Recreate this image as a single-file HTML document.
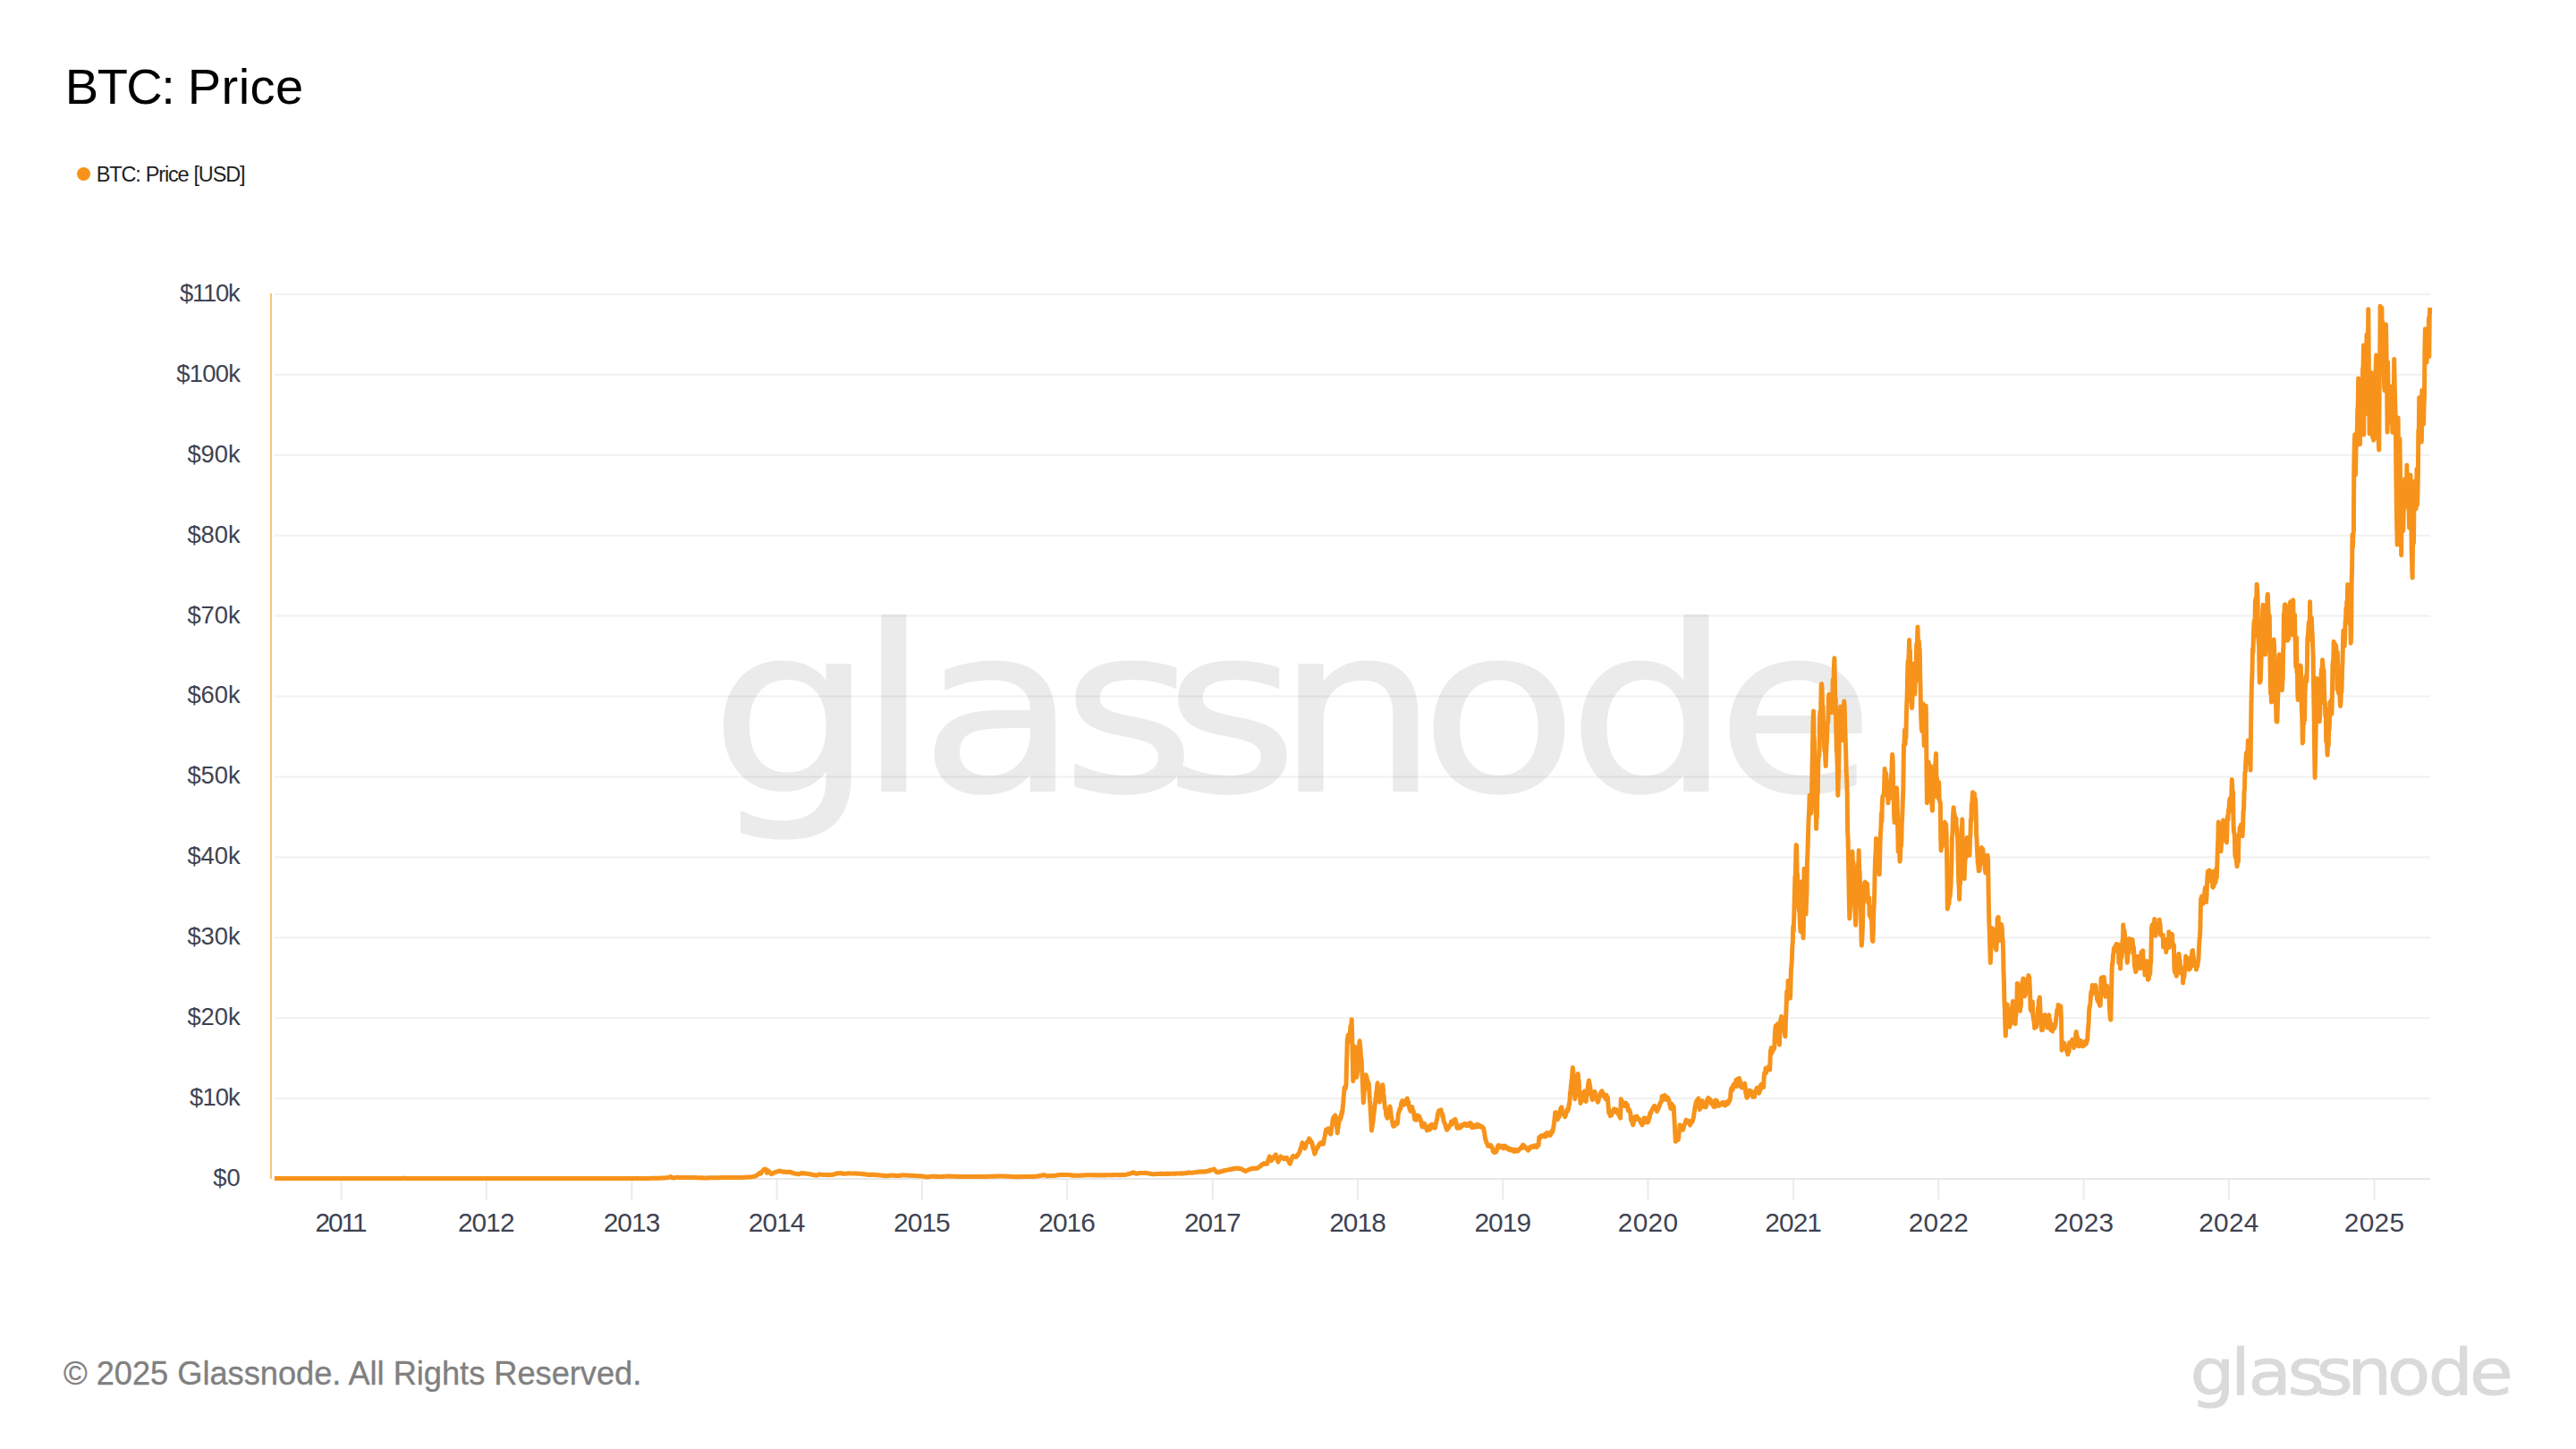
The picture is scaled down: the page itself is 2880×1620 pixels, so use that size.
<!DOCTYPE html>
<html lang="en"><head><meta charset="utf-8"><title>BTC: Price</title>
<style>
html,body{margin:0;padding:0;background:#fff}
body{width:2880px;height:1620px;position:relative;overflow:hidden;font-family:"Liberation Sans",sans-serif}
.title{position:absolute;left:72.8px;top:65.4px;font-size:56px;line-height:64px;color:#000;white-space:nowrap;word-spacing:-0.3px}
.title .a{letter-spacing:-1.5px}
.title .b{letter-spacing:0.5px}
.legend{position:absolute;left:86px;top:180px;height:28px;display:flex;align-items:center;white-space:nowrap}
.dot{width:15px;height:15px;border-radius:50%;background:#f7931a;display:inline-block;margin-right:8px}
.legend span.t{font-size:23.5px;color:#1f1f1f;line-height:28px;letter-spacing:-1.15px;word-spacing:0.6px;position:relative;top:0.7px;left:-1.2px}
.footer{position:absolute;left:71px;top:1515px;-webkit-text-stroke:0.35px #808080;font-size:36.2px;line-height:42px;color:#808080;white-space:nowrap}
.yl{font-family:"Liberation Sans",sans-serif;font-size:27.4px;fill:#3e4351}
.xl{font-family:"Liberation Sans",sans-serif;font-size:29.8px;fill:#3e4351}
</style></head><body>
<svg width="2880" height="1620" viewBox="0 0 2880 1620" style="position:absolute;left:0;top:0">
<rect x="307" y="328.0" width="2410" height="2" fill="#f1f1f2"/>
<rect x="307" y="417.9" width="2410" height="2" fill="#f1f1f2"/>
<rect x="307" y="507.8" width="2410" height="2" fill="#f1f1f2"/>
<rect x="307" y="597.7" width="2410" height="2" fill="#f1f1f2"/>
<rect x="307" y="687.6" width="2410" height="2" fill="#f1f1f2"/>
<rect x="307" y="777.5" width="2410" height="2" fill="#f1f1f2"/>
<rect x="307" y="867.5" width="2410" height="2" fill="#f1f1f2"/>
<rect x="307" y="957.4" width="2410" height="2" fill="#f1f1f2"/>
<rect x="307" y="1047.3" width="2410" height="2" fill="#f1f1f2"/>
<rect x="307" y="1137.2" width="2410" height="2" fill="#f1f1f2"/>
<rect x="307" y="1227.1" width="2410" height="2" fill="#f1f1f2"/>
<rect x="307" y="1317.0" width="2410" height="2" fill="#e7e7e8"/>
<rect x="380.5" y="1319.0" width="2" height="22.5" fill="#ebebec"/>
<rect x="542.7" y="1319.0" width="2" height="22.5" fill="#ebebec"/>
<rect x="705.4" y="1319.0" width="2" height="22.5" fill="#ebebec"/>
<rect x="867.6" y="1319.0" width="2" height="22.5" fill="#ebebec"/>
<rect x="1029.9" y="1319.0" width="2" height="22.5" fill="#ebebec"/>
<rect x="1192.1" y="1319.0" width="2" height="22.5" fill="#ebebec"/>
<rect x="1354.8" y="1319.0" width="2" height="22.5" fill="#ebebec"/>
<rect x="1517.0" y="1319.0" width="2" height="22.5" fill="#ebebec"/>
<rect x="1679.2" y="1319.0" width="2" height="22.5" fill="#ebebec"/>
<rect x="1841.4" y="1319.0" width="2" height="22.5" fill="#ebebec"/>
<rect x="2004.1" y="1319.0" width="2" height="22.5" fill="#ebebec"/>
<rect x="2166.3" y="1319.0" width="2" height="22.5" fill="#ebebec"/>
<rect x="2328.6" y="1319.0" width="2" height="22.5" fill="#ebebec"/>
<rect x="2490.8" y="1319.0" width="2" height="22.5" fill="#ebebec"/>
<rect x="2653.5" y="1319.0" width="2" height="22.5" fill="#ebebec"/>
<text transform="scale(1.115,1)" x="712.2 860.2 922.5 1064.4 1167.4 1279.3 1424.1 1572.0 1720.9" y="884" font-family="'DejaVu Sans','Liberation Sans',sans-serif" font-size="258" fill="#000" stroke="#000" stroke-width="2" stroke-linejoin="round" opacity="0.075" >glassnode</text>
<rect x="302" y="328" width="2" height="990" fill="#fbc27a"/>
<path d="M306.8,1317.6 L307.3,1317.6 L307.7,1317.6 L308.2,1317.6 L308.6,1317.6 L309.1,1317.6 L309.5,1317.6 L309.9,1317.6 L310.4,1317.6 L310.8,1317.6 L311.3,1317.6 L311.7,1317.6 L312.2,1317.6 L312.6,1317.6 L313.1,1317.6 L313.5,1317.6 L313.9,1317.6 L314.4,1317.6 L314.8,1317.6 L315.3,1317.6 L315.7,1317.6 L316.2,1317.6 L316.6,1317.6 L317.1,1317.6 L317.5,1317.6 L317.9,1317.6 L318.4,1317.6 L318.8,1317.6 L319.3,1317.6 L319.7,1317.6 L320.2,1317.6 L320.6,1317.6 L321.1,1317.6 L321.5,1317.6 L321.9,1317.6 L322.4,1317.6 L322.8,1317.6 L323.3,1317.6 L323.7,1317.6 L324.2,1317.6 L324.6,1317.6 L325.1,1317.6 L325.5,1317.6 L325.9,1317.6 L326.4,1317.6 L326.8,1317.6 L327.3,1317.6 L327.7,1317.6 L328.2,1317.6 L328.6,1317.6 L329.1,1317.6 L329.5,1317.6 L329.9,1317.6 L330.4,1317.6 L330.8,1317.6 L331.3,1317.6 L331.7,1317.6 L332.2,1317.6 L332.6,1317.6 L333.1,1317.6 L333.5,1317.6 L333.9,1317.6 L334.4,1317.6 L334.8,1317.6 L335.3,1317.6 L335.7,1317.6 L336.2,1317.6 L336.6,1317.6 L337.1,1317.6 L337.5,1317.6 L337.9,1317.6 L338.4,1317.6 L338.8,1317.6 L339.3,1317.6 L339.7,1317.6 L340.2,1317.6 L340.6,1317.6 L341.1,1317.6 L341.5,1317.6 L341.9,1317.6 L342.4,1317.6 L342.8,1317.6 L343.3,1317.6 L343.7,1317.6 L344.2,1317.6 L344.6,1317.6 L345.1,1317.6 L345.5,1317.6 L345.9,1317.6 L346.4,1317.6 L346.8,1317.6 L347.3,1317.6 L347.7,1317.6 L348.2,1317.6 L348.6,1317.6 L349.1,1317.6 L349.5,1317.6 L349.9,1317.6 L350.4,1317.6 L350.8,1317.6 L351.3,1317.6 L351.7,1317.6 L352.2,1317.6 L352.6,1317.6 L353.1,1317.6 L353.5,1317.6 L353.9,1317.6 L354.4,1317.6 L354.8,1317.6 L355.3,1317.6 L355.7,1317.6 L356.2,1317.6 L356.6,1317.6 L357.1,1317.6 L357.5,1317.6 L357.9,1317.6 L358.4,1317.6 L358.8,1317.6 L359.3,1317.6 L359.7,1317.6 L360.2,1317.6 L360.6,1317.6 L361.1,1317.6 L361.5,1317.6 L361.9,1317.6 L362.4,1317.6 L362.8,1317.6 L363.3,1317.6 L363.7,1317.6 L364.2,1317.6 L364.6,1317.6 L365.1,1317.6 L365.5,1317.6 L365.9,1317.6 L366.4,1317.6 L366.8,1317.6 L367.3,1317.6 L367.7,1317.6 L368.2,1317.6 L368.6,1317.6 L369.1,1317.6 L369.5,1317.6 L369.9,1317.6 L370.4,1317.6 L370.8,1317.6 L371.3,1317.6 L371.7,1317.6 L372.2,1317.6 L372.6,1317.6 L373.1,1317.6 L373.5,1317.6 L373.9,1317.6 L374.4,1317.6 L374.8,1317.6 L375.3,1317.6 L375.7,1317.6 L376.2,1317.6 L376.6,1317.6 L377.1,1317.6 L377.5,1317.6 L377.9,1317.6 L378.4,1317.6 L378.8,1317.6 L379.3,1317.6 L379.7,1317.6 L380.2,1317.6 L380.6,1317.6 L381.1,1317.6 L381.5,1317.6 L381.9,1317.6 L382.4,1317.6 L382.8,1317.6 L383.3,1317.6 L383.7,1317.6 L384.2,1317.6 L384.6,1317.6 L385.1,1317.6 L385.5,1317.6 L385.9,1317.6 L386.4,1317.6 L386.8,1317.6 L387.3,1317.6 L387.7,1317.6 L388.2,1317.6 L388.6,1317.6 L389.1,1317.6 L389.5,1317.6 L389.9,1317.6 L390.4,1317.6 L390.8,1317.6 L391.3,1317.6 L391.7,1317.6 L392.2,1317.6 L392.6,1317.6 L393.1,1317.6 L393.5,1317.6 L393.9,1317.6 L394.4,1317.6 L394.8,1317.6 L395.3,1317.6 L395.7,1317.6 L396.2,1317.6 L396.6,1317.6 L397.1,1317.6 L397.5,1317.6 L397.9,1317.6 L398.4,1317.6 L398.8,1317.6 L399.3,1317.6 L399.7,1317.6 L400.2,1317.6 L400.6,1317.6 L401.1,1317.6 L401.5,1317.6 L401.9,1317.6 L402.4,1317.6 L402.8,1317.6 L403.3,1317.6 L403.7,1317.6 L404.2,1317.6 L404.6,1317.6 L405.1,1317.6 L405.5,1317.6 L405.9,1317.6 L406.4,1317.6 L406.8,1317.6 L407.3,1317.6 L407.7,1317.6 L408.2,1317.6 L408.6,1317.6 L409.1,1317.6 L409.5,1317.6 L409.9,1317.6 L410.4,1317.6 L410.8,1317.6 L411.3,1317.6 L411.7,1317.6 L412.2,1317.6 L412.6,1317.6 L413.1,1317.6 L413.5,1317.6 L413.9,1317.6 L414.4,1317.6 L414.8,1317.6 L415.3,1317.6 L415.7,1317.6 L416.2,1317.6 L416.6,1317.6 L417.1,1317.6 L417.5,1317.6 L417.9,1317.6 L418.4,1317.6 L418.8,1317.6 L419.3,1317.6 L419.7,1317.6 L420.2,1317.6 L420.6,1317.6 L421.1,1317.6 L421.5,1317.6 L421.9,1317.6 L422.4,1317.6 L422.8,1317.6 L423.3,1317.6 L423.7,1317.6 L424.2,1317.6 L424.6,1317.6 L425.1,1317.6 L425.5,1317.6 L425.9,1317.6 L426.4,1317.6 L426.8,1317.6 L427.3,1317.6 L427.7,1317.6 L428.2,1317.6 L428.6,1317.6 L429.1,1317.6 L429.5,1317.6 L429.9,1317.6 L430.4,1317.6 L430.8,1317.6 L431.3,1317.6 L431.7,1317.6 L432.2,1317.6 L432.6,1317.6 L433.1,1317.6 L433.5,1317.6 L433.9,1317.5 L434.4,1317.6 L434.8,1317.6 L435.3,1317.5 L435.7,1317.6 L436.2,1317.5 L436.6,1317.5 L437.1,1317.5 L437.5,1317.5 L437.9,1317.5 L438.4,1317.5 L438.8,1317.5 L439.3,1317.5 L439.7,1317.5 L440.2,1317.5 L440.6,1317.5 L441.1,1317.5 L441.5,1317.5 L441.9,1317.5 L442.4,1317.5 L442.8,1317.5 L443.3,1317.5 L443.7,1317.5 L444.2,1317.5 L444.6,1317.4 L445.1,1317.5 L445.5,1317.5 L445.9,1317.4 L446.4,1317.4 L446.8,1317.4 L447.3,1317.4 L447.7,1317.4 L448.2,1317.4 L448.6,1317.4 L449.1,1317.4 L449.5,1317.4 L449.9,1317.4 L450.4,1317.4 L450.8,1317.3 L451.3,1317.3 L451.7,1317.3 L452.2,1317.3 L452.6,1317.4 L453.1,1317.4 L453.5,1317.4 L453.9,1317.4 L454.4,1317.4 L454.8,1317.4 L455.3,1317.4 L455.7,1317.4 L456.2,1317.4 L456.6,1317.4 L457.1,1317.4 L457.5,1317.5 L457.9,1317.5 L458.4,1317.5 L458.8,1317.5 L459.3,1317.4 L459.7,1317.5 L460.2,1317.5 L460.6,1317.5 L461.1,1317.5 L461.5,1317.5 L461.9,1317.4 L462.4,1317.5 L462.8,1317.5 L463.3,1317.5 L463.7,1317.5 L464.2,1317.5 L464.6,1317.5 L465.1,1317.5 L465.5,1317.5 L465.9,1317.5 L466.4,1317.5 L466.8,1317.5 L467.3,1317.5 L467.7,1317.5 L468.2,1317.5 L468.6,1317.5 L469.1,1317.5 L469.5,1317.5 L469.9,1317.5 L470.4,1317.5 L470.8,1317.5 L471.3,1317.5 L471.7,1317.5 L472.2,1317.5 L472.6,1317.5 L473.1,1317.5 L473.5,1317.5 L473.9,1317.5 L474.4,1317.5 L474.8,1317.5 L475.3,1317.5 L475.7,1317.5 L476.2,1317.5 L476.6,1317.5 L477.1,1317.5 L477.5,1317.5 L477.9,1317.5 L478.4,1317.5 L478.8,1317.5 L479.3,1317.5 L479.7,1317.5 L480.2,1317.5 L480.6,1317.5 L481.1,1317.5 L481.5,1317.5 L481.9,1317.5 L482.4,1317.5 L482.8,1317.5 L483.3,1317.5 L483.7,1317.5 L484.2,1317.5 L484.6,1317.5 L485.1,1317.5 L485.5,1317.5 L485.9,1317.5 L486.4,1317.5 L486.8,1317.5 L487.3,1317.5 L487.7,1317.5 L488.2,1317.5 L488.6,1317.5 L489.1,1317.5 L489.5,1317.5 L489.9,1317.5 L490.4,1317.6 L490.8,1317.5 L491.3,1317.6 L491.7,1317.5 L492.2,1317.5 L492.6,1317.6 L493.1,1317.5 L493.5,1317.6 L493.9,1317.6 L494.4,1317.6 L494.8,1317.6 L495.3,1317.6 L495.7,1317.6 L496.2,1317.6 L496.6,1317.6 L497.1,1317.6 L497.5,1317.6 L497.9,1317.6 L498.4,1317.6 L498.8,1317.6 L499.3,1317.6 L499.7,1317.6 L500.2,1317.6 L500.6,1317.6 L501.1,1317.6 L501.5,1317.6 L501.9,1317.6 L502.4,1317.6 L502.8,1317.6 L503.3,1317.6 L503.7,1317.6 L504.2,1317.6 L504.6,1317.6 L505.1,1317.6 L505.5,1317.6 L505.9,1317.6 L506.4,1317.6 L506.8,1317.6 L507.3,1317.5 L507.7,1317.6 L508.2,1317.6 L508.6,1317.6 L509.1,1317.6 L509.5,1317.6 L509.9,1317.6 L510.4,1317.6 L510.8,1317.6 L511.3,1317.6 L511.7,1317.6 L512.2,1317.6 L512.6,1317.6 L513.1,1317.6 L513.5,1317.6 L513.9,1317.6 L514.4,1317.6 L514.8,1317.6 L515.3,1317.6 L515.7,1317.6 L516.2,1317.6 L516.6,1317.6 L517.1,1317.6 L517.5,1317.6 L517.9,1317.6 L518.4,1317.6 L518.8,1317.6 L519.3,1317.6 L519.7,1317.6 L520.2,1317.6 L520.6,1317.6 L521.1,1317.6 L521.5,1317.6 L521.9,1317.6 L522.4,1317.6 L522.8,1317.6 L523.3,1317.6 L523.7,1317.6 L524.2,1317.6 L524.6,1317.6 L525.1,1317.6 L525.5,1317.6 L525.9,1317.6 L526.4,1317.6 L526.8,1317.6 L527.3,1317.6 L527.7,1317.6 L528.2,1317.6 L528.6,1317.6 L529.1,1317.5 L529.5,1317.6 L529.9,1317.6 L530.4,1317.6 L530.8,1317.6 L531.3,1317.6 L531.7,1317.6 L532.2,1317.6 L532.6,1317.6 L533.1,1317.6 L533.5,1317.6 L533.9,1317.6 L534.4,1317.6 L534.8,1317.6 L535.3,1317.6 L535.7,1317.6 L536.2,1317.6 L536.6,1317.5 L537.1,1317.5 L537.5,1317.6 L537.9,1317.5 L538.4,1317.5 L538.8,1317.6 L539.3,1317.5 L539.7,1317.6 L540.2,1317.6 L540.6,1317.5 L541.1,1317.6 L541.5,1317.5 L542.0,1317.6 L542.4,1317.5 L542.8,1317.6 L543.3,1317.5 L543.7,1317.5 L544.2,1317.5 L544.6,1317.5 L545.1,1317.6 L545.5,1317.5 L546.0,1317.5 L546.4,1317.5 L546.8,1317.5 L547.3,1317.5 L547.7,1317.5 L548.2,1317.5 L548.6,1317.5 L549.1,1317.5 L549.5,1317.5 L550.0,1317.5 L550.4,1317.5 L550.8,1317.6 L551.3,1317.5 L551.7,1317.5 L552.2,1317.6 L552.6,1317.5 L553.1,1317.5 L553.5,1317.5 L554.0,1317.6 L554.4,1317.6 L554.8,1317.5 L555.3,1317.6 L555.7,1317.6 L556.2,1317.5 L556.6,1317.6 L557.1,1317.5 L557.5,1317.6 L558.0,1317.5 L558.4,1317.6 L558.8,1317.5 L559.3,1317.5 L559.7,1317.6 L560.2,1317.6 L560.6,1317.6 L561.1,1317.6 L561.5,1317.6 L562.0,1317.6 L562.4,1317.6 L562.8,1317.6 L563.3,1317.6 L563.7,1317.6 L564.2,1317.6 L564.6,1317.6 L565.1,1317.6 L565.5,1317.6 L566.0,1317.6 L566.4,1317.6 L566.8,1317.6 L567.3,1317.6 L567.7,1317.6 L568.2,1317.6 L568.6,1317.6 L569.1,1317.6 L569.5,1317.6 L570.0,1317.6 L570.4,1317.6 L570.8,1317.6 L571.3,1317.6 L571.7,1317.6 L572.2,1317.6 L572.6,1317.5 L573.1,1317.6 L573.5,1317.6 L574.0,1317.6 L574.4,1317.6 L574.8,1317.6 L575.3,1317.6 L575.7,1317.6 L576.2,1317.6 L576.6,1317.6 L577.1,1317.6 L577.5,1317.6 L578.0,1317.6 L578.4,1317.6 L578.8,1317.6 L579.3,1317.6 L579.7,1317.6 L580.2,1317.6 L580.6,1317.6 L581.1,1317.6 L581.5,1317.6 L582.0,1317.6 L582.4,1317.5 L582.8,1317.6 L583.3,1317.6 L583.7,1317.6 L584.2,1317.6 L584.6,1317.6 L585.1,1317.6 L585.5,1317.6 L586.0,1317.6 L586.4,1317.5 L586.8,1317.5 L587.3,1317.6 L587.7,1317.5 L588.2,1317.5 L588.6,1317.6 L589.1,1317.6 L589.5,1317.6 L590.0,1317.6 L590.4,1317.6 L590.8,1317.6 L591.3,1317.6 L591.7,1317.5 L592.2,1317.6 L592.6,1317.6 L593.1,1317.6 L593.5,1317.6 L594.0,1317.6 L594.4,1317.5 L594.8,1317.6 L595.3,1317.6 L595.7,1317.6 L596.2,1317.6 L596.6,1317.6 L597.1,1317.6 L597.5,1317.6 L598.0,1317.6 L598.4,1317.5 L598.8,1317.6 L599.3,1317.6 L599.7,1317.5 L600.2,1317.6 L600.6,1317.6 L601.1,1317.5 L601.5,1317.6 L602.0,1317.6 L602.4,1317.6 L602.8,1317.6 L603.3,1317.5 L603.7,1317.6 L604.2,1317.6 L604.6,1317.6 L605.1,1317.5 L605.5,1317.5 L606.0,1317.5 L606.4,1317.6 L606.8,1317.6 L607.3,1317.6 L607.7,1317.6 L608.2,1317.6 L608.6,1317.6 L609.1,1317.6 L609.5,1317.6 L610.0,1317.6 L610.4,1317.5 L610.8,1317.5 L611.3,1317.6 L611.7,1317.6 L612.2,1317.6 L612.6,1317.5 L613.1,1317.5 L613.5,1317.5 L614.0,1317.5 L614.4,1317.5 L614.8,1317.5 L615.3,1317.5 L615.7,1317.5 L616.2,1317.6 L616.6,1317.5 L617.1,1317.5 L617.5,1317.5 L618.0,1317.5 L618.4,1317.5 L618.8,1317.5 L619.3,1317.5 L619.7,1317.5 L620.2,1317.5 L620.6,1317.5 L621.1,1317.5 L621.5,1317.5 L622.0,1317.5 L622.4,1317.5 L622.8,1317.5 L623.3,1317.5 L623.7,1317.5 L624.2,1317.5 L624.6,1317.5 L625.1,1317.5 L625.5,1317.5 L626.0,1317.5 L626.4,1317.5 L626.8,1317.5 L627.3,1317.5 L627.7,1317.5 L628.2,1317.5 L628.6,1317.5 L629.1,1317.5 L629.5,1317.5 L630.0,1317.5 L630.4,1317.5 L630.8,1317.5 L631.3,1317.5 L631.7,1317.5 L632.2,1317.5 L632.6,1317.5 L633.1,1317.5 L633.5,1317.5 L634.0,1317.5 L634.4,1317.5 L634.8,1317.5 L635.3,1317.5 L635.7,1317.5 L636.2,1317.5 L636.6,1317.5 L637.1,1317.5 L637.5,1317.5 L638.0,1317.5 L638.4,1317.5 L638.8,1317.5 L639.3,1317.5 L639.7,1317.5 L640.2,1317.5 L640.6,1317.5 L641.1,1317.5 L641.5,1317.5 L642.0,1317.5 L642.4,1317.5 L642.8,1317.5 L643.3,1317.5 L643.7,1317.5 L644.2,1317.5 L644.6,1317.5 L645.1,1317.5 L645.5,1317.5 L646.0,1317.5 L646.4,1317.5 L646.8,1317.5 L647.3,1317.5 L647.7,1317.5 L648.2,1317.5 L648.6,1317.5 L649.1,1317.5 L649.5,1317.5 L650.0,1317.5 L650.4,1317.5 L650.8,1317.5 L651.3,1317.5 L651.7,1317.5 L652.2,1317.5 L652.6,1317.5 L653.1,1317.5 L653.5,1317.5 L654.0,1317.5 L654.4,1317.5 L654.8,1317.5 L655.3,1317.5 L655.7,1317.5 L656.2,1317.5 L656.6,1317.5 L657.1,1317.5 L657.5,1317.5 L658.0,1317.5 L658.4,1317.5 L658.8,1317.5 L659.3,1317.5 L659.7,1317.5 L660.2,1317.5 L660.6,1317.5 L661.1,1317.5 L661.5,1317.5 L662.0,1317.5 L662.4,1317.5 L662.8,1317.5 L663.3,1317.5 L663.7,1317.5 L664.2,1317.5 L664.6,1317.5 L665.1,1317.5 L665.5,1317.5 L666.0,1317.5 L666.4,1317.5 L666.8,1317.5 L667.3,1317.5 L667.7,1317.5 L668.2,1317.5 L668.6,1317.5 L669.1,1317.5 L669.5,1317.5 L670.0,1317.5 L670.4,1317.5 L670.8,1317.5 L671.3,1317.5 L671.7,1317.5 L672.2,1317.5 L672.6,1317.5 L673.1,1317.5 L673.5,1317.5 L674.0,1317.5 L674.4,1317.5 L674.8,1317.5 L675.3,1317.5 L675.7,1317.5 L676.2,1317.5 L676.6,1317.5 L677.1,1317.5 L677.5,1317.5 L678.0,1317.5 L678.4,1317.5 L678.8,1317.5 L679.3,1317.5 L679.7,1317.5 L680.2,1317.5 L680.6,1317.5 L681.1,1317.5 L681.5,1317.5 L682.0,1317.5 L682.4,1317.5 L682.8,1317.5 L683.3,1317.5 L683.7,1317.5 L684.2,1317.5 L684.6,1317.5 L685.1,1317.5 L685.5,1317.5 L686.0,1317.5 L686.4,1317.5 L686.8,1317.5 L687.3,1317.5 L687.7,1317.5 L688.2,1317.5 L688.6,1317.5 L689.1,1317.5 L689.5,1317.5 L690.0,1317.5 L690.4,1317.5 L690.8,1317.5 L691.3,1317.5 L691.7,1317.5 L692.2,1317.5 L692.6,1317.5 L693.1,1317.5 L693.5,1317.5 L694.0,1317.5 L694.4,1317.5 L694.8,1317.5 L695.3,1317.5 L695.7,1317.5 L696.2,1317.5 L696.6,1317.5 L697.1,1317.5 L697.5,1317.5 L698.0,1317.5 L698.4,1317.5 L698.8,1317.5 L699.3,1317.5 L699.7,1317.5 L700.2,1317.5 L700.6,1317.5 L701.1,1317.5 L701.5,1317.5 L702.0,1317.5 L702.4,1317.5 L702.8,1317.5 L703.3,1317.5 L703.7,1317.5 L704.2,1317.5 L704.6,1317.5 L705.1,1317.5 L705.5,1317.5 L706.0,1317.5 L706.4,1317.5 L706.8,1317.5 L707.3,1317.5 L707.7,1317.5 L708.2,1317.5 L708.6,1317.5 L709.1,1317.5 L709.5,1317.5 L710.0,1317.5 L710.4,1317.5 L710.8,1317.5 L711.3,1317.5 L711.7,1317.5 L712.2,1317.5 L712.6,1317.5 L713.1,1317.4 L713.5,1317.5 L714.0,1317.4 L714.4,1317.5 L714.8,1317.4 L715.3,1317.5 L715.7,1317.4 L716.2,1317.4 L716.6,1317.5 L717.1,1317.4 L717.5,1317.4 L718.0,1317.4 L718.4,1317.4 L718.8,1317.4 L719.3,1317.4 L719.7,1317.4 L720.2,1317.4 L720.6,1317.4 L721.1,1317.4 L721.5,1317.4 L722.0,1317.4 L722.4,1317.4 L722.8,1317.4 L723.3,1317.4 L723.7,1317.4 L724.2,1317.4 L724.6,1317.4 L725.1,1317.4 L725.5,1317.4 L726.0,1317.4 L726.4,1317.4 L726.8,1317.4 L727.3,1317.4 L727.7,1317.3 L728.2,1317.3 L728.6,1317.3 L729.1,1317.3 L729.5,1317.3 L730.0,1317.3 L730.4,1317.3 L730.8,1317.3 L731.3,1317.3 L731.7,1317.3 L732.2,1317.3 L732.6,1317.3 L733.1,1317.3 L733.5,1317.3 L734.0,1317.3 L734.4,1317.3 L734.8,1317.2 L735.3,1317.2 L735.7,1317.2 L736.2,1317.2 L736.6,1317.2 L737.1,1317.1 L737.5,1317.2 L738.0,1317.2 L738.4,1317.1 L738.8,1317.1 L739.3,1317.1 L739.7,1317.1 L740.2,1317.1 L740.6,1317.1 L741.1,1317.1 L741.5,1317.0 L742.0,1317.0 L742.4,1316.9 L742.8,1317.0 L743.3,1316.9 L743.7,1316.9 L744.2,1316.8 L744.6,1316.8 L745.1,1316.8 L745.5,1316.7 L746.0,1316.7 L746.4,1316.7 L746.8,1316.5 L747.3,1316.4 L747.7,1316.2 L748.2,1316.1 L748.6,1315.9 L749.1,1315.8 L749.5,1315.6 L750.0,1315.5 L750.4,1315.9 L750.8,1316.4 L751.3,1316.7 L751.7,1316.8 L752.2,1316.8 L752.6,1316.9 L753.1,1317.0 L753.5,1316.9 L754.0,1316.8 L754.4,1316.7 L754.8,1316.7 L755.3,1316.6 L755.7,1316.5 L756.2,1316.4 L756.6,1316.3 L757.1,1316.3 L757.5,1316.3 L758.0,1316.3 L758.4,1316.4 L758.8,1316.4 L759.3,1316.4 L759.7,1316.5 L760.2,1316.5 L760.6,1316.5 L761.1,1316.6 L761.5,1316.6 L762.0,1316.6 L762.4,1316.6 L762.8,1316.6 L763.3,1316.6 L763.7,1316.6 L764.2,1316.6 L764.6,1316.5 L765.1,1316.5 L765.5,1316.5 L766.0,1316.6 L766.4,1316.6 L766.8,1316.4 L767.3,1316.5 L767.7,1316.5 L768.2,1316.5 L768.6,1316.5 L769.1,1316.4 L769.5,1316.5 L770.0,1316.5 L770.4,1316.5 L770.8,1316.4 L771.3,1316.4 L771.7,1316.4 L772.2,1316.4 L772.6,1316.5 L773.1,1316.5 L773.5,1316.4 L774.0,1316.5 L774.4,1316.5 L774.8,1316.6 L775.3,1316.5 L775.7,1316.6 L776.2,1316.6 L776.6,1316.6 L777.1,1316.6 L777.5,1316.7 L778.0,1316.6 L778.4,1316.6 L778.8,1316.7 L779.3,1316.7 L779.7,1316.7 L780.2,1316.7 L780.6,1316.7 L781.1,1316.7 L781.5,1316.7 L782.0,1316.8 L782.4,1316.8 L782.8,1316.8 L783.3,1316.8 L783.7,1316.9 L784.2,1316.9 L784.6,1316.8 L785.1,1316.8 L785.5,1316.9 L786.0,1316.9 L786.4,1316.9 L786.8,1316.9 L787.3,1316.9 L787.7,1317.0 L788.2,1317.0 L788.6,1317.0 L789.1,1317.0 L789.5,1317.0 L790.0,1317.0 L790.4,1316.9 L790.8,1316.9 L791.3,1316.9 L791.7,1316.8 L792.2,1316.9 L792.6,1316.8 L793.1,1316.8 L793.5,1316.8 L794.0,1316.8 L794.4,1316.8 L794.8,1316.8 L795.3,1316.8 L795.7,1316.8 L796.2,1316.7 L796.6,1316.8 L797.1,1316.8 L797.5,1316.8 L798.0,1316.7 L798.4,1316.7 L798.8,1316.7 L799.3,1316.7 L799.7,1316.7 L800.2,1316.7 L800.6,1316.7 L801.1,1316.7 L801.5,1316.7 L802.0,1316.7 L802.4,1316.7 L802.8,1316.6 L803.3,1316.7 L803.7,1316.7 L804.2,1316.6 L804.6,1316.7 L805.1,1316.7 L805.5,1316.6 L806.0,1316.6 L806.4,1316.6 L806.8,1316.6 L807.3,1316.6 L807.7,1316.6 L808.2,1316.6 L808.6,1316.6 L809.1,1316.5 L809.5,1316.5 L810.0,1316.5 L810.4,1316.5 L810.8,1316.5 L811.3,1316.5 L811.7,1316.5 L812.2,1316.5 L812.6,1316.5 L813.1,1316.4 L813.5,1316.4 L814.0,1316.4 L814.4,1316.4 L814.8,1316.4 L815.3,1316.4 L815.7,1316.4 L816.2,1316.4 L816.6,1316.4 L817.1,1316.4 L817.5,1316.4 L818.0,1316.5 L818.4,1316.4 L818.8,1316.5 L819.3,1316.5 L819.7,1316.5 L820.2,1316.5 L820.6,1316.5 L821.1,1316.6 L821.5,1316.5 L822.0,1316.5 L822.4,1316.5 L822.8,1316.6 L823.3,1316.5 L823.7,1316.5 L824.2,1316.5 L824.6,1316.6 L825.1,1316.5 L825.5,1316.6 L826.0,1316.6 L826.4,1316.6 L826.8,1316.6 L827.3,1316.6 L827.7,1316.6 L828.2,1316.6 L828.6,1316.6 L829.1,1316.5 L829.5,1316.5 L830.0,1316.5 L830.4,1316.4 L830.8,1316.4 L831.3,1316.4 L831.7,1316.3 L832.2,1316.3 L832.6,1316.4 L833.1,1316.3 L833.5,1316.2 L834.0,1316.2 L834.4,1316.2 L834.8,1316.2 L835.3,1316.1 L835.7,1316.1 L836.2,1316.1 L836.6,1316.0 L837.1,1316.0 L837.5,1316.0 L838.0,1316.0 L838.4,1315.9 L838.8,1315.9 L839.3,1316.0 L839.7,1315.8 L840.2,1315.8 L840.6,1315.8 L841.1,1315.7 L841.5,1315.8 L842.0,1315.6 L842.4,1315.5 L842.8,1315.4 L843.3,1315.2 L843.7,1315.0 L844.2,1315.0 L844.6,1314.8 L845.1,1314.7 L845.5,1314.6 L846.0,1314.2 L846.4,1313.9 L846.8,1313.6 L847.3,1313.1 L847.7,1312.6 L848.2,1312.2 L848.6,1311.9 L849.1,1311.3 L849.5,1311.8 L850.0,1311.9 L850.4,1312.2 L850.8,1311.6 L851.3,1311.0 L851.7,1310.4 L852.2,1309.7 L852.6,1309.0 L853.1,1308.6 L853.5,1307.9 L854.0,1307.4 L854.4,1307.6 L854.8,1307.5 L855.3,1307.1 L855.7,1307.5 L856.2,1307.3 L856.6,1308.8 L857.1,1309.7 L857.5,1311.3 L858.0,1310.7 L858.4,1309.8 L858.9,1308.8 L859.3,1309.5 L859.7,1309.6 L860.2,1310.4 L860.6,1310.8 L861.1,1311.3 L861.5,1311.8 L862.0,1312.3 L862.4,1312.7 L862.9,1312.4 L863.3,1312.1 L863.7,1311.8 L864.2,1311.7 L864.6,1311.4 L865.1,1311.3 L865.5,1311.0 L866.0,1310.8 L866.4,1310.6 L866.9,1310.4 L867.3,1310.3 L867.7,1310.3 L868.2,1310.2 L868.6,1309.9 L869.1,1309.7 L869.5,1309.8 L870.0,1309.4 L870.4,1309.4 L870.9,1309.1 L871.3,1309.4 L871.7,1309.3 L872.2,1309.5 L872.6,1309.3 L873.1,1309.8 L873.5,1309.7 L874.0,1309.6 L874.4,1309.9 L874.9,1310.0 L875.3,1309.9 L875.7,1310.2 L876.2,1310.0 L876.6,1310.1 L877.1,1310.2 L877.5,1310.1 L878.0,1310.3 L878.4,1310.2 L878.9,1310.4 L879.3,1310.3 L879.7,1310.4 L880.2,1310.4 L880.6,1310.2 L881.1,1310.5 L881.5,1310.4 L882.0,1310.1 L882.4,1310.4 L882.9,1310.5 L883.3,1310.5 L883.7,1310.3 L884.2,1310.4 L884.6,1310.7 L885.1,1310.7 L885.5,1311.3 L886.0,1311.1 L886.4,1311.4 L886.9,1311.4 L887.3,1311.6 L887.7,1311.9 L888.2,1312.0 L888.6,1312.1 L889.1,1312.3 L889.5,1312.3 L890.0,1312.2 L890.4,1312.2 L890.9,1312.3 L891.3,1312.4 L891.7,1312.5 L892.2,1312.7 L892.6,1312.7 L893.1,1312.7 L893.5,1312.5 L894.0,1312.4 L894.4,1312.1 L894.9,1312.0 L895.3,1311.8 L895.7,1311.6 L896.2,1311.7 L896.6,1311.6 L897.1,1311.6 L897.5,1311.9 L898.0,1311.8 L898.4,1312.0 L898.9,1311.7 L899.3,1311.9 L899.7,1312.0 L900.2,1311.8 L900.6,1312.0 L901.1,1312.2 L901.5,1312.2 L902.0,1312.3 L902.4,1312.2 L902.9,1312.2 L903.3,1312.3 L903.7,1312.4 L904.2,1312.5 L904.6,1312.6 L905.1,1312.6 L905.5,1312.8 L906.0,1312.9 L906.4,1313.0 L906.9,1313.0 L907.3,1313.1 L907.7,1313.3 L908.2,1313.2 L908.6,1313.2 L909.1,1313.5 L909.5,1313.6 L910.0,1313.6 L910.4,1313.8 L910.9,1313.8 L911.3,1313.9 L911.7,1314.0 L912.2,1314.1 L912.6,1314.2 L913.1,1314.1 L913.5,1313.7 L914.0,1313.7 L914.4,1313.5 L914.9,1313.2 L915.3,1312.9 L915.7,1313.0 L916.2,1313.1 L916.6,1313.0 L917.1,1313.1 L917.5,1313.0 L918.0,1313.2 L918.4,1313.3 L918.9,1313.3 L919.3,1313.3 L919.7,1313.3 L920.2,1313.4 L920.6,1313.3 L921.1,1313.5 L921.5,1313.5 L922.0,1313.6 L922.4,1313.5 L922.9,1313.5 L923.3,1313.5 L923.7,1313.6 L924.2,1313.6 L924.6,1313.5 L925.1,1313.7 L925.5,1313.7 L926.0,1313.5 L926.4,1313.4 L926.9,1313.5 L927.3,1313.5 L927.7,1313.6 L928.2,1313.6 L928.6,1313.5 L929.1,1313.6 L929.5,1313.5 L930.0,1313.6 L930.4,1313.5 L930.9,1313.3 L931.3,1313.1 L931.7,1313.0 L932.2,1312.9 L932.6,1312.9 L933.1,1312.7 L933.5,1312.6 L934.0,1312.4 L934.4,1312.1 L934.9,1312.1 L935.3,1311.9 L935.7,1311.8 L936.2,1311.8 L936.6,1311.9 L937.1,1311.7 L937.5,1311.7 L938.0,1311.7 L938.4,1311.6 L938.9,1311.8 L939.3,1311.9 L939.7,1311.8 L940.2,1311.8 L940.6,1311.8 L941.1,1311.6 L941.5,1312.0 L942.0,1312.2 L942.4,1312.1 L942.9,1312.2 L943.3,1312.3 L943.7,1312.3 L944.2,1312.3 L944.6,1312.2 L945.1,1312.3 L945.5,1312.2 L946.0,1312.0 L946.4,1312.0 L946.9,1311.9 L947.3,1312.0 L947.7,1312.0 L948.2,1311.8 L948.6,1311.8 L949.1,1311.8 L949.5,1311.9 L950.0,1311.9 L950.4,1312.0 L950.9,1311.8 L951.3,1312.0 L951.7,1312.1 L952.2,1312.1 L952.6,1311.9 L953.1,1312.0 L953.5,1311.9 L954.0,1312.1 L954.4,1312.1 L954.9,1312.0 L955.3,1311.8 L955.7,1312.1 L956.2,1312.0 L956.6,1312.0 L957.1,1312.0 L957.5,1312.0 L958.0,1312.1 L958.4,1312.2 L958.9,1312.0 L959.3,1312.2 L959.7,1312.3 L960.2,1312.1 L960.6,1312.2 L961.1,1312.3 L961.5,1312.3 L962.0,1312.3 L962.4,1312.2 L962.9,1312.3 L963.3,1312.3 L963.7,1312.4 L964.2,1312.5 L964.6,1312.8 L965.1,1312.5 L965.5,1312.8 L966.0,1312.8 L966.4,1312.6 L966.9,1312.8 L967.3,1312.9 L967.7,1312.9 L968.2,1313.0 L968.6,1313.2 L969.1,1313.1 L969.5,1313.3 L970.0,1313.3 L970.4,1313.4 L970.9,1313.3 L971.3,1313.4 L971.7,1313.3 L972.2,1313.4 L972.6,1313.5 L973.1,1313.3 L973.5,1313.3 L974.0,1313.4 L974.4,1313.3 L974.9,1313.4 L975.3,1313.2 L975.7,1313.3 L976.2,1313.3 L976.6,1313.3 L977.1,1313.3 L977.5,1313.5 L978.0,1313.3 L978.4,1313.6 L978.9,1313.5 L979.3,1313.6 L979.7,1313.5 L980.2,1313.7 L980.6,1313.8 L981.1,1313.7 L981.5,1313.7 L982.0,1313.9 L982.4,1313.8 L982.9,1313.8 L983.3,1313.8 L983.7,1313.9 L984.2,1313.9 L984.6,1314.0 L985.1,1314.0 L985.5,1314.1 L986.0,1314.1 L986.4,1314.2 L986.9,1314.3 L987.3,1314.2 L987.7,1314.4 L988.2,1314.5 L988.6,1314.3 L989.1,1314.4 L989.5,1314.4 L990.0,1314.4 L990.4,1314.6 L990.9,1314.6 L991.3,1314.7 L991.7,1314.7 L992.2,1314.7 L992.6,1314.5 L993.1,1314.5 L993.5,1314.3 L994.0,1314.4 L994.4,1314.3 L994.9,1314.2 L995.3,1314.2 L995.7,1314.1 L996.2,1314.0 L996.6,1314.1 L997.1,1314.1 L997.5,1314.1 L998.0,1314.2 L998.4,1314.1 L998.9,1314.3 L999.3,1314.1 L999.7,1314.3 L1000.2,1314.5 L1000.6,1314.4 L1001.1,1314.3 L1001.5,1314.5 L1002.0,1314.4 L1002.4,1314.5 L1002.9,1314.5 L1003.3,1314.6 L1003.7,1314.6 L1004.2,1314.6 L1004.6,1314.5 L1005.1,1314.4 L1005.5,1314.3 L1006.0,1314.4 L1006.4,1314.2 L1006.9,1314.0 L1007.3,1313.9 L1007.7,1313.9 L1008.2,1314.0 L1008.6,1313.8 L1009.1,1313.8 L1009.5,1313.9 L1010.0,1313.9 L1010.4,1313.9 L1010.9,1313.9 L1011.3,1313.9 L1011.7,1313.9 L1012.2,1314.1 L1012.6,1314.0 L1013.1,1314.1 L1013.5,1313.9 L1014.0,1314.1 L1014.4,1314.1 L1014.9,1314.2 L1015.3,1314.1 L1015.7,1314.2 L1016.2,1314.2 L1016.6,1314.2 L1017.1,1314.2 L1017.5,1314.3 L1018.0,1314.2 L1018.4,1314.3 L1018.9,1314.3 L1019.3,1314.2 L1019.7,1314.4 L1020.2,1314.3 L1020.6,1314.3 L1021.1,1314.4 L1021.5,1314.5 L1022.0,1314.5 L1022.4,1314.6 L1022.9,1314.5 L1023.3,1314.5 L1023.7,1314.7 L1024.2,1314.7 L1024.6,1314.7 L1025.1,1314.7 L1025.5,1314.7 L1026.0,1314.8 L1026.4,1314.8 L1026.9,1314.8 L1027.3,1314.8 L1027.7,1314.9 L1028.2,1314.8 L1028.6,1314.8 L1029.1,1314.8 L1029.5,1315.0 L1030.0,1314.9 L1030.4,1315.0 L1030.9,1315.0 L1031.3,1315.0 L1031.7,1315.1 L1032.2,1315.1 L1032.6,1315.2 L1033.1,1315.3 L1033.5,1315.4 L1034.0,1315.4 L1034.4,1315.6 L1034.9,1315.6 L1035.3,1315.7 L1035.7,1315.8 L1036.2,1315.9 L1036.6,1316.0 L1037.1,1315.9 L1037.5,1315.8 L1038.0,1315.8 L1038.4,1315.7 L1038.9,1315.6 L1039.3,1315.5 L1039.7,1315.5 L1040.2,1315.4 L1040.6,1315.4 L1041.1,1315.3 L1041.5,1315.3 L1042.0,1315.2 L1042.4,1315.2 L1042.9,1315.1 L1043.3,1315.3 L1043.7,1315.3 L1044.2,1315.3 L1044.6,1315.3 L1045.1,1315.3 L1045.5,1315.2 L1046.0,1315.4 L1046.4,1315.3 L1046.9,1315.4 L1047.3,1315.4 L1047.7,1315.3 L1048.2,1315.3 L1048.6,1315.5 L1049.1,1315.4 L1049.5,1315.4 L1050.0,1315.5 L1050.4,1315.5 L1050.9,1315.5 L1051.3,1315.5 L1051.7,1315.4 L1052.2,1315.4 L1052.6,1315.5 L1053.1,1315.4 L1053.5,1315.4 L1054.0,1315.4 L1054.4,1315.4 L1054.9,1315.3 L1055.3,1315.3 L1055.7,1315.3 L1056.2,1315.2 L1056.6,1315.2 L1057.1,1315.2 L1057.5,1315.1 L1058.0,1315.2 L1058.4,1315.1 L1058.9,1315.1 L1059.3,1315.0 L1059.7,1315.1 L1060.2,1315.0 L1060.6,1315.0 L1061.1,1315.0 L1061.5,1315.0 L1062.0,1315.0 L1062.4,1315.1 L1062.9,1315.1 L1063.3,1315.2 L1063.7,1315.1 L1064.2,1315.1 L1064.6,1315.2 L1065.1,1315.2 L1065.5,1315.2 L1066.0,1315.2 L1066.4,1315.2 L1066.9,1315.3 L1067.3,1315.3 L1067.7,1315.4 L1068.2,1315.3 L1068.6,1315.3 L1069.1,1315.3 L1069.5,1315.4 L1070.0,1315.3 L1070.4,1315.4 L1070.9,1315.4 L1071.3,1315.4 L1071.7,1315.4 L1072.2,1315.4 L1072.6,1315.4 L1073.1,1315.4 L1073.5,1315.4 L1074.0,1315.4 L1074.4,1315.5 L1074.9,1315.5 L1075.3,1315.4 L1075.7,1315.4 L1076.2,1315.4 L1076.6,1315.6 L1077.1,1315.5 L1077.5,1315.4 L1078.0,1315.4 L1078.4,1315.4 L1078.9,1315.5 L1079.3,1315.5 L1079.7,1315.4 L1080.2,1315.4 L1080.6,1315.4 L1081.1,1315.4 L1081.5,1315.5 L1082.0,1315.4 L1082.4,1315.5 L1082.9,1315.4 L1083.3,1315.5 L1083.7,1315.5 L1084.2,1315.5 L1084.6,1315.5 L1085.1,1315.5 L1085.5,1315.5 L1086.0,1315.5 L1086.4,1315.5 L1086.9,1315.5 L1087.3,1315.4 L1087.7,1315.6 L1088.2,1315.5 L1088.6,1315.6 L1089.1,1315.4 L1089.5,1315.5 L1090.0,1315.5 L1090.4,1315.6 L1090.9,1315.5 L1091.3,1315.5 L1091.7,1315.4 L1092.2,1315.5 L1092.6,1315.6 L1093.1,1315.5 L1093.5,1315.5 L1094.0,1315.6 L1094.4,1315.6 L1094.9,1315.6 L1095.3,1315.5 L1095.7,1315.5 L1096.2,1315.5 L1096.6,1315.6 L1097.1,1315.6 L1097.5,1315.6 L1098.0,1315.6 L1098.4,1315.6 L1098.9,1315.6 L1099.3,1315.5 L1099.7,1315.6 L1100.2,1315.5 L1100.6,1315.5 L1101.1,1315.4 L1101.5,1315.4 L1102.0,1315.4 L1102.4,1315.5 L1102.9,1315.4 L1103.3,1315.3 L1103.7,1315.4 L1104.2,1315.4 L1104.6,1315.4 L1105.1,1315.4 L1105.5,1315.4 L1106.0,1315.3 L1106.4,1315.3 L1106.9,1315.2 L1107.3,1315.3 L1107.7,1315.3 L1108.2,1315.2 L1108.6,1315.3 L1109.1,1315.2 L1109.5,1315.2 L1110.0,1315.2 L1110.4,1315.2 L1110.9,1315.1 L1111.3,1315.1 L1111.7,1315.1 L1112.2,1315.1 L1112.6,1315.1 L1113.1,1315.2 L1113.5,1315.1 L1114.0,1315.1 L1114.4,1315.0 L1114.9,1315.0 L1115.3,1315.0 L1115.7,1315.0 L1116.2,1315.0 L1116.6,1315.0 L1117.1,1315.1 L1117.5,1315.0 L1118.0,1315.1 L1118.4,1314.9 L1118.9,1315.0 L1119.3,1315.0 L1119.7,1315.0 L1120.2,1315.1 L1120.6,1315.1 L1121.1,1315.1 L1121.5,1314.9 L1122.0,1315.0 L1122.4,1314.9 L1122.9,1315.1 L1123.3,1315.1 L1123.7,1315.1 L1124.2,1315.0 L1124.6,1315.1 L1125.1,1315.1 L1125.5,1315.2 L1126.0,1315.2 L1126.4,1315.2 L1126.9,1315.2 L1127.3,1315.2 L1127.7,1315.2 L1128.2,1315.3 L1128.6,1315.3 L1129.1,1315.3 L1129.5,1315.4 L1130.0,1315.5 L1130.4,1315.4 L1130.9,1315.4 L1131.3,1315.5 L1131.7,1315.5 L1132.2,1315.6 L1132.6,1315.6 L1133.1,1315.5 L1133.5,1315.6 L1134.0,1315.6 L1134.4,1315.7 L1134.9,1315.7 L1135.3,1315.7 L1135.7,1315.7 L1136.2,1315.6 L1136.6,1315.7 L1137.1,1315.7 L1137.5,1315.7 L1138.0,1315.6 L1138.4,1315.6 L1138.9,1315.6 L1139.3,1315.6 L1139.7,1315.6 L1140.2,1315.7 L1140.6,1315.6 L1141.1,1315.6 L1141.5,1315.6 L1142.0,1315.6 L1142.4,1315.6 L1142.9,1315.6 L1143.3,1315.6 L1143.7,1315.6 L1144.2,1315.5 L1144.6,1315.5 L1145.1,1315.5 L1145.5,1315.5 L1146.0,1315.6 L1146.4,1315.5 L1146.9,1315.5 L1147.3,1315.6 L1147.7,1315.5 L1148.2,1315.4 L1148.6,1315.5 L1149.1,1315.5 L1149.5,1315.5 L1150.0,1315.5 L1150.4,1315.5 L1150.9,1315.4 L1151.3,1315.4 L1151.7,1315.4 L1152.2,1315.4 L1152.6,1315.4 L1153.1,1315.4 L1153.5,1315.4 L1154.0,1315.4 L1154.4,1315.4 L1154.9,1315.4 L1155.3,1315.3 L1155.7,1315.4 L1156.2,1315.4 L1156.6,1315.3 L1157.1,1315.4 L1157.5,1315.3 L1158.0,1315.3 L1158.4,1315.3 L1158.9,1315.2 L1159.3,1315.1 L1159.7,1315.1 L1160.2,1315.0 L1160.6,1314.8 L1161.1,1314.9 L1161.5,1314.9 L1162.0,1314.8 L1162.4,1314.7 L1162.9,1314.5 L1163.3,1314.4 L1163.7,1314.3 L1164.2,1314.2 L1164.6,1314.2 L1165.1,1314.1 L1165.5,1314.0 L1166.0,1313.8 L1166.4,1313.9 L1166.9,1313.8 L1167.3,1313.6 L1167.7,1313.8 L1168.2,1314.0 L1168.6,1314.1 L1169.1,1314.3 L1169.5,1314.4 L1170.0,1314.6 L1170.4,1314.7 L1170.9,1314.7 L1171.3,1314.7 L1171.7,1314.7 L1172.2,1314.7 L1172.6,1314.6 L1173.1,1314.6 L1173.5,1314.6 L1174.0,1314.6 L1174.4,1314.5 L1174.9,1314.6 L1175.3,1314.6 L1175.8,1314.5 L1176.2,1314.5 L1176.6,1314.4 L1177.1,1314.4 L1177.5,1314.5 L1178.0,1314.5 L1178.4,1314.4 L1178.9,1314.4 L1179.3,1314.4 L1179.8,1314.3 L1180.2,1314.2 L1180.6,1314.1 L1181.1,1314.1 L1181.5,1314.0 L1182.0,1314.0 L1182.4,1313.8 L1182.9,1313.8 L1183.3,1313.8 L1183.8,1313.6 L1184.2,1313.7 L1184.6,1313.6 L1185.1,1313.5 L1185.5,1313.5 L1186.0,1313.4 L1186.4,1313.5 L1186.9,1313.5 L1187.3,1313.5 L1187.8,1313.4 L1188.2,1313.6 L1188.6,1313.3 L1189.1,1313.5 L1189.5,1313.5 L1190.0,1313.6 L1190.4,1313.4 L1190.9,1313.5 L1191.3,1313.4 L1191.8,1313.6 L1192.2,1313.6 L1192.6,1313.5 L1193.1,1313.5 L1193.5,1313.4 L1194.0,1313.6 L1194.4,1313.6 L1194.9,1313.5 L1195.3,1313.5 L1195.8,1313.5 L1196.2,1313.6 L1196.6,1313.8 L1197.1,1313.8 L1197.5,1313.9 L1198.0,1313.8 L1198.4,1314.0 L1198.9,1314.2 L1199.3,1314.1 L1199.8,1314.3 L1200.2,1314.3 L1200.6,1314.4 L1201.1,1314.3 L1201.5,1314.3 L1202.0,1314.2 L1202.4,1314.2 L1202.9,1314.2 L1203.3,1314.2 L1203.8,1314.2 L1204.2,1314.3 L1204.6,1314.2 L1205.1,1314.3 L1205.5,1314.3 L1206.0,1314.2 L1206.4,1314.3 L1206.9,1314.2 L1207.3,1314.2 L1207.8,1314.2 L1208.2,1314.1 L1208.6,1314.1 L1209.1,1314.2 L1209.5,1314.1 L1210.0,1313.9 L1210.4,1314.0 L1210.9,1314.0 L1211.3,1313.9 L1211.8,1314.0 L1212.2,1313.8 L1212.6,1313.9 L1213.1,1313.8 L1213.5,1313.7 L1214.0,1313.8 L1214.4,1313.7 L1214.9,1313.7 L1215.3,1313.7 L1215.8,1313.7 L1216.2,1313.7 L1216.6,1313.6 L1217.1,1313.7 L1217.5,1313.8 L1218.0,1313.8 L1218.4,1313.7 L1218.9,1313.7 L1219.3,1313.8 L1219.8,1313.6 L1220.2,1313.7 L1220.6,1313.8 L1221.1,1313.8 L1221.5,1313.7 L1222.0,1313.7 L1222.4,1313.9 L1222.9,1313.8 L1223.3,1313.8 L1223.8,1313.8 L1224.2,1313.9 L1224.6,1313.7 L1225.1,1313.9 L1225.5,1313.9 L1226.0,1313.9 L1226.4,1313.8 L1226.9,1313.9 L1227.3,1313.8 L1227.8,1313.9 L1228.2,1313.9 L1228.6,1314.0 L1229.1,1313.8 L1229.5,1313.8 L1230.0,1313.9 L1230.4,1313.8 L1230.9,1313.8 L1231.3,1313.8 L1231.8,1313.8 L1232.2,1313.7 L1232.6,1313.9 L1233.1,1313.9 L1233.5,1313.8 L1234.0,1314.0 L1234.4,1313.8 L1234.9,1313.9 L1235.3,1313.8 L1235.8,1313.9 L1236.2,1313.7 L1236.6,1313.8 L1237.1,1313.8 L1237.5,1313.8 L1238.0,1313.8 L1238.4,1313.8 L1238.9,1313.8 L1239.3,1313.7 L1239.8,1313.8 L1240.2,1313.7 L1240.6,1313.7 L1241.1,1313.7 L1241.5,1313.6 L1242.0,1313.7 L1242.4,1313.8 L1242.9,1313.7 L1243.3,1313.6 L1243.8,1313.8 L1244.2,1313.7 L1244.6,1313.7 L1245.1,1313.7 L1245.5,1313.6 L1246.0,1313.6 L1246.4,1313.6 L1246.9,1313.6 L1247.3,1313.5 L1247.8,1313.6 L1248.2,1313.6 L1248.6,1313.6 L1249.1,1313.5 L1249.5,1313.6 L1250.0,1313.5 L1250.4,1313.6 L1250.9,1313.7 L1251.3,1313.6 L1251.8,1313.6 L1252.2,1313.5 L1252.6,1313.4 L1253.1,1313.5 L1253.5,1313.6 L1254.0,1313.7 L1254.4,1313.5 L1254.9,1313.6 L1255.3,1313.5 L1255.8,1313.5 L1256.2,1313.6 L1256.6,1313.6 L1257.1,1313.6 L1257.5,1313.6 L1258.0,1313.5 L1258.4,1313.3 L1258.9,1313.3 L1259.3,1313.2 L1259.8,1313.0 L1260.2,1312.9 L1260.6,1312.8 L1261.1,1312.6 L1261.5,1312.4 L1262.0,1312.3 L1262.4,1312.2 L1262.9,1312.4 L1263.3,1311.9 L1263.8,1312.0 L1264.2,1311.7 L1264.6,1311.6 L1265.1,1311.5 L1265.5,1311.2 L1266.0,1311.2 L1266.4,1311.0 L1266.9,1310.8 L1267.3,1310.7 L1267.8,1311.0 L1268.2,1311.2 L1268.6,1311.4 L1269.1,1311.8 L1269.5,1311.7 L1270.0,1312.0 L1270.4,1312.2 L1270.9,1312.2 L1271.3,1311.9 L1271.8,1312.1 L1272.2,1311.7 L1272.6,1311.6 L1273.1,1311.8 L1273.5,1311.5 L1274.0,1311.5 L1274.4,1311.5 L1274.9,1311.4 L1275.3,1311.6 L1275.8,1311.4 L1276.2,1311.6 L1276.6,1311.4 L1277.1,1311.6 L1277.5,1311.5 L1278.0,1311.6 L1278.4,1311.6 L1278.9,1311.6 L1279.3,1311.4 L1279.8,1311.3 L1280.2,1311.6 L1280.6,1311.5 L1281.1,1311.6 L1281.5,1311.6 L1282.0,1311.5 L1282.4,1311.6 L1282.9,1311.7 L1283.3,1311.7 L1283.8,1311.8 L1284.2,1312.0 L1284.6,1312.0 L1285.1,1312.0 L1285.5,1312.1 L1286.0,1312.4 L1286.4,1312.3 L1286.9,1312.5 L1287.3,1312.6 L1287.8,1312.6 L1288.2,1312.7 L1288.6,1312.7 L1289.1,1312.7 L1289.5,1312.7 L1290.0,1312.7 L1290.4,1312.7 L1290.9,1312.7 L1291.3,1312.5 L1291.8,1312.5 L1292.2,1312.6 L1292.6,1312.5 L1293.1,1312.6 L1293.5,1312.4 L1294.0,1312.4 L1294.4,1312.5 L1294.9,1312.4 L1295.3,1312.3 L1295.8,1312.5 L1296.2,1312.5 L1296.6,1312.4 L1297.1,1312.3 L1297.5,1312.4 L1298.0,1312.6 L1298.4,1312.3 L1298.9,1312.1 L1299.3,1312.3 L1299.8,1312.3 L1300.2,1312.4 L1300.6,1312.4 L1301.1,1312.4 L1301.5,1312.4 L1302.0,1312.4 L1302.4,1312.5 L1302.9,1312.3 L1303.3,1312.5 L1303.8,1312.3 L1304.2,1312.3 L1304.6,1312.4 L1305.1,1312.4 L1305.5,1312.2 L1306.0,1312.4 L1306.4,1312.1 L1306.9,1312.2 L1307.3,1312.4 L1307.8,1312.2 L1308.2,1312.1 L1308.6,1312.3 L1309.1,1312.3 L1309.5,1312.2 L1310.0,1312.0 L1310.4,1312.2 L1310.9,1312.2 L1311.3,1312.3 L1311.8,1312.3 L1312.2,1312.1 L1312.6,1312.1 L1313.1,1312.1 L1313.5,1312.2 L1314.0,1312.1 L1314.4,1312.2 L1314.9,1312.1 L1315.3,1311.9 L1315.8,1312.1 L1316.2,1312.0 L1316.6,1312.1 L1317.1,1312.1 L1317.5,1311.9 L1318.0,1312.0 L1318.4,1312.0 L1318.9,1312.0 L1319.3,1311.8 L1319.8,1311.8 L1320.2,1311.7 L1320.6,1312.2 L1321.1,1311.8 L1321.5,1311.8 L1322.0,1311.7 L1322.4,1311.9 L1322.9,1311.8 L1323.3,1311.9 L1323.8,1311.8 L1324.2,1311.8 L1324.6,1311.8 L1325.1,1311.7 L1325.5,1311.7 L1326.0,1311.6 L1326.4,1311.5 L1326.9,1311.3 L1327.3,1311.4 L1327.8,1311.3 L1328.2,1311.4 L1328.6,1310.8 L1329.1,1311.0 L1329.5,1310.9 L1330.0,1310.9 L1330.4,1311.0 L1330.9,1311.1 L1331.3,1311.2 L1331.8,1311.1 L1332.2,1311.1 L1332.6,1311.2 L1333.1,1311.2 L1333.5,1311.1 L1333.9,1310.9 L1334.4,1310.9 L1334.8,1310.7 L1335.2,1310.7 L1335.7,1310.8 L1336.1,1310.7 L1336.5,1310.7 L1337.0,1310.5 L1337.4,1310.5 L1337.8,1310.3 L1338.3,1310.4 L1338.7,1310.4 L1339.1,1310.4 L1339.6,1310.3 L1340.0,1310.1 L1340.4,1310.1 L1340.9,1310.1 L1341.3,1310.0 L1341.7,1310.1 L1342.2,1310.3 L1342.6,1310.2 L1343.1,1309.7 L1343.5,1309.8 L1343.9,1309.8 L1344.4,1310.1 L1344.8,1310.0 L1345.2,1310.0 L1345.7,1310.2 L1346.1,1309.8 L1346.5,1309.8 L1347.0,1310.1 L1347.4,1309.9 L1347.8,1309.8 L1348.3,1309.9 L1348.7,1309.6 L1349.2,1309.5 L1349.6,1309.2 L1350.1,1309.3 L1350.5,1309.2 L1351.0,1309.2 L1351.4,1308.9 L1351.9,1308.6 L1352.3,1308.5 L1352.8,1308.9 L1353.2,1308.0 L1353.7,1308.2 L1354.1,1308.1 L1354.6,1308.0 L1355.0,1307.7 L1355.5,1307.7 L1355.9,1307.6 L1356.4,1307.4 L1356.8,1307.2 L1357.3,1307.1 L1357.7,1307.6 L1358.1,1307.9 L1358.5,1308.5 L1359.0,1308.9 L1359.4,1309.5 L1359.8,1310.1 L1360.3,1310.5 L1360.7,1310.8 L1361.1,1310.7 L1361.6,1310.7 L1362.0,1310.5 L1362.5,1310.5 L1362.9,1310.3 L1363.4,1310.2 L1363.8,1310.0 L1364.2,1309.8 L1364.7,1310.0 L1365.1,1309.9 L1365.6,1309.7 L1366.0,1309.6 L1366.4,1309.4 L1366.9,1309.2 L1367.3,1308.9 L1367.8,1309.2 L1368.2,1309.0 L1368.7,1308.8 L1369.1,1308.6 L1369.5,1308.8 L1370.0,1308.3 L1370.4,1308.6 L1370.9,1308.4 L1371.3,1308.4 L1371.8,1308.1 L1372.2,1307.9 L1372.6,1307.9 L1373.1,1307.8 L1373.5,1307.8 L1374.0,1307.6 L1374.4,1307.5 L1374.8,1307.7 L1375.3,1307.3 L1375.7,1307.2 L1376.2,1307.4 L1376.6,1307.1 L1377.1,1307.0 L1377.5,1307.1 L1377.9,1306.8 L1378.4,1306.6 L1378.8,1306.7 L1379.3,1306.6 L1379.7,1306.9 L1380.1,1306.3 L1380.6,1306.6 L1381.0,1306.2 L1381.5,1306.2 L1381.9,1306.1 L1382.4,1306.1 L1382.8,1306.0 L1383.2,1306.2 L1383.7,1306.4 L1384.1,1306.1 L1384.6,1306.6 L1385.0,1306.6 L1385.4,1306.6 L1385.9,1306.3 L1386.3,1306.7 L1386.7,1306.6 L1387.2,1306.7 L1387.6,1306.7 L1388.1,1306.9 L1388.5,1307.3 L1388.9,1307.6 L1389.4,1307.9 L1389.8,1307.9 L1390.3,1308.4 L1390.7,1308.7 L1391.1,1308.6 L1391.6,1309.1 L1392.0,1309.1 L1392.5,1309.5 L1392.9,1309.3 L1393.3,1309.1 L1393.8,1309.1 L1394.2,1308.7 L1394.6,1308.4 L1395.0,1308.2 L1395.5,1307.9 L1395.9,1308.1 L1396.3,1307.7 L1396.8,1307.4 L1397.2,1307.5 L1397.6,1307.0 L1398.1,1306.9 L1398.5,1306.7 L1398.9,1306.8 L1399.4,1306.4 L1399.8,1306.6 L1400.2,1306.3 L1400.7,1306.1 L1401.1,1306.4 L1401.5,1306.3 L1401.9,1306.3 L1402.4,1306.4 L1402.8,1306.1 L1403.2,1306.4 L1403.7,1306.4 L1404.1,1306.2 L1404.5,1306.0 L1405.0,1306.0 L1405.4,1306.2 L1405.8,1305.9 L1406.3,1306.0 L1406.7,1305.6 L1407.1,1305.2 L1407.6,1304.7 L1408.0,1304.8 L1408.4,1304.3 L1408.9,1303.9 L1409.3,1303.8 L1409.7,1302.8 L1410.1,1302.9 L1410.6,1302.6 L1411.0,1302.4 L1411.4,1301.6 L1411.9,1301.7 L1412.3,1301.2 L1412.7,1301.1 L1413.2,1300.5 L1413.6,1300.8 L1414.0,1300.8 L1414.5,1301.4 L1414.9,1300.8 L1415.3,1300.8 L1415.8,1300.9 L1416.2,1300.9 L1416.6,1301.2 L1417.1,1299.8 L1417.5,1297.7 L1418.0,1297.0 L1418.5,1295.8 L1418.9,1294.6 L1419.4,1292.9 L1419.8,1293.7 L1420.2,1295.4 L1420.6,1295.5 L1421.0,1296.7 L1421.4,1297.7 L1421.9,1296.7 L1422.3,1296.2 L1422.8,1295.5 L1423.2,1295.8 L1423.6,1294.8 L1424.1,1293.4 L1424.5,1293.6 L1425.0,1292.9 L1425.4,1292.0 L1425.8,1291.5 L1426.3,1290.8 L1426.7,1292.1 L1427.2,1293.3 L1427.7,1294.2 L1428.1,1296.3 L1428.6,1298.1 L1429.0,1299.1 L1429.5,1298.4 L1430.0,1296.9 L1430.4,1295.7 L1430.9,1294.9 L1431.3,1294.2 L1431.8,1292.9 L1432.2,1293.3 L1432.7,1293.4 L1433.1,1294.1 L1433.5,1294.2 L1434.0,1294.8 L1434.4,1294.8 L1434.8,1294.9 L1435.3,1295.7 L1435.7,1295.5 L1436.1,1295.6 L1436.5,1294.7 L1437.0,1294.9 L1437.4,1295.2 L1437.8,1294.5 L1438.3,1294.3 L1438.7,1294.3 L1439.1,1295.7 L1439.6,1296.3 L1440.0,1297.3 L1440.4,1297.4 L1440.9,1299.2 L1441.3,1299.0 L1441.7,1300.2 L1442.2,1301.2 L1442.6,1300.2 L1443.0,1299.3 L1443.4,1297.5 L1443.9,1296.4 L1444.3,1295.6 L1444.7,1293.7 L1445.2,1293.5 L1445.6,1292.2 L1446.0,1292.5 L1446.5,1292.4 L1446.9,1293.0 L1447.3,1293.3 L1447.8,1293.2 L1448.2,1293.4 L1448.6,1293.8 L1449.1,1293.6 L1449.5,1292.8 L1449.9,1292.4 L1450.3,1291.5 L1450.8,1291.7 L1451.2,1290.4 L1451.6,1290.2 L1452.1,1289.4 L1452.5,1288.8 L1452.9,1287.4 L1453.4,1286.9 L1453.8,1284.6 L1454.2,1284.2 L1454.7,1282.4 L1455.1,1281.2 L1455.5,1279.0 L1456.0,1277.7 L1456.4,1279.2 L1456.9,1280.3 L1457.3,1280.4 L1457.8,1282.0 L1458.3,1282.8 L1458.7,1283.9 L1459.2,1282.9 L1459.6,1282.5 L1460.0,1280.5 L1460.5,1278.7 L1460.9,1277.6 L1461.4,1277.5 L1461.8,1276.4 L1462.2,1275.9 L1462.7,1275.2 L1463.1,1274.7 L1463.6,1272.9 L1464.0,1273.7 L1464.4,1274.6 L1464.8,1274.4 L1465.3,1276.1 L1465.7,1277.4 L1466.1,1277.9 L1466.6,1276.8 L1467.0,1278.4 L1467.5,1280.8 L1467.9,1283.3 L1468.4,1284.8 L1468.8,1285.4 L1469.3,1288.1 L1469.8,1290.1 L1470.2,1289.2 L1470.7,1288.1 L1471.1,1286.2 L1471.6,1285.0 L1472.1,1284.8 L1472.5,1283.2 L1473.0,1282.1 L1473.4,1282.8 L1473.9,1281.4 L1474.4,1281.0 L1474.8,1279.2 L1475.3,1279.1 L1475.7,1279.3 L1476.2,1277.7 L1476.7,1277.7 L1477.1,1279.0 L1477.6,1277.2 L1478.0,1277.5 L1478.5,1278.7 L1479.0,1279.1 L1479.4,1279.1 L1479.9,1277.2 L1480.3,1274.2 L1480.8,1272.0 L1481.3,1269.7 L1481.7,1267.2 L1482.2,1265.3 L1482.6,1262.9 L1483.1,1265.0 L1483.6,1263.8 L1484.0,1263.1 L1484.5,1262.0 L1484.9,1261.8 L1485.4,1263.0 L1485.9,1263.9 L1486.3,1264.9 L1486.8,1267.0 L1487.2,1265.9 L1487.7,1268.0 L1488.2,1265.2 L1488.6,1261.0 L1489.1,1258.7 L1489.5,1257.7 L1490.0,1252.2 L1490.5,1250.1 L1490.9,1249.7 L1491.4,1248.7 L1491.8,1250.3 L1492.3,1247.5 L1492.8,1246.9 L1493.2,1248.0 L1493.6,1252.2 L1494.1,1255.1 L1494.5,1258.9 L1494.9,1263.8 L1495.3,1266.7 L1495.7,1262.9 L1496.1,1260.2 L1496.5,1257.7 L1497.0,1254.9 L1497.4,1251.5 L1497.8,1250.0 L1498.2,1250.5 L1498.7,1251.2 L1499.1,1246.8 L1499.5,1248.8 L1500.0,1242.9 L1500.4,1245.4 L1500.8,1243.2 L1501.2,1237.8 L1501.7,1233.5 L1502.1,1227.7 L1502.5,1222.5 L1502.9,1218.3 L1503.3,1215.4 L1503.7,1215.4 L1504.1,1217.5 L1504.5,1215.6 L1505.0,1212.8 L1505.4,1195.1 L1505.9,1177.5 L1506.3,1161.8 L1506.8,1159.6 L1507.3,1157.1 L1507.7,1165.2 L1508.2,1160.8 L1508.6,1158.5 L1509.1,1157.6 L1509.5,1152.9 L1509.9,1147.2 L1510.3,1151.0 L1510.8,1145.2 L1511.2,1139.7 L1511.6,1154.5 L1512.0,1176.9 L1512.4,1189.3 L1512.8,1208.7 L1513.3,1200.2 L1513.7,1187.0 L1514.2,1178.8 L1514.6,1170.0 L1515.0,1177.9 L1515.5,1184.9 L1515.9,1193.1 L1516.3,1196.2 L1516.7,1204.5 L1517.1,1201.6 L1517.6,1196.9 L1518.0,1189.2 L1518.4,1185.4 L1518.9,1177.1 L1519.3,1173.7 L1519.7,1166.6 L1520.1,1163.8 L1520.6,1168.3 L1521.0,1172.9 L1521.4,1180.2 L1521.8,1182.8 L1522.2,1185.2 L1522.6,1196.2 L1523.0,1203.5 L1523.5,1213.4 L1523.9,1222.9 L1524.3,1232.8 L1524.8,1227.9 L1525.2,1219.3 L1525.7,1218.8 L1526.1,1209.2 L1526.6,1206.2 L1527.1,1201.8 L1527.5,1203.2 L1527.9,1203.6 L1528.3,1209.3 L1528.8,1207.1 L1529.2,1211.8 L1529.6,1212.0 L1530.1,1210.8 L1530.5,1212.8 L1530.9,1220.6 L1531.4,1229.4 L1531.8,1234.2 L1532.2,1242.1 L1532.7,1248.7 L1533.1,1256.7 L1533.5,1263.9 L1534.0,1260.4 L1534.4,1257.5 L1534.8,1255.5 L1535.2,1252.7 L1535.6,1247.9 L1536.0,1244.6 L1536.5,1241.0 L1536.9,1238.1 L1537.4,1232.9 L1537.9,1227.8 L1538.3,1227.7 L1538.8,1220.5 L1539.2,1219.6 L1539.7,1213.4 L1540.2,1210.8 L1540.6,1217.7 L1541.0,1217.4 L1541.4,1225.1 L1541.8,1229.8 L1542.2,1232.2 L1542.7,1228.8 L1543.1,1229.4 L1543.5,1223.5 L1544.0,1219.3 L1544.4,1221.4 L1544.8,1218.8 L1545.3,1215.0 L1545.7,1212.8 L1546.1,1213.9 L1546.6,1221.5 L1547.1,1225.4 L1547.5,1229.7 L1548.0,1234.4 L1548.4,1239.1 L1548.9,1239.1 L1549.4,1242.0 L1549.8,1247.1 L1550.3,1248.4 L1550.7,1247.9 L1551.2,1250.1 L1551.7,1247.3 L1552.1,1246.2 L1552.6,1245.1 L1553.0,1242.3 L1553.5,1238.0 L1554.0,1237.0 L1554.4,1239.8 L1554.8,1242.5 L1555.3,1246.9 L1555.7,1249.3 L1556.1,1251.0 L1556.6,1254.3 L1557.0,1255.4 L1557.4,1258.4 L1557.9,1259.1 L1558.3,1257.7 L1558.7,1258.2 L1559.2,1258.6 L1559.6,1256.4 L1560.1,1256.4 L1560.5,1255.1 L1560.9,1257.0 L1561.4,1256.6 L1561.8,1256.3 L1562.3,1256.3 L1562.7,1253.0 L1563.2,1245.9 L1563.6,1244.6 L1564.1,1243.0 L1564.6,1241.6 L1565.0,1239.6 L1565.5,1239.6 L1565.9,1239.6 L1566.4,1234.7 L1566.9,1232.7 L1567.3,1231.7 L1567.8,1230.8 L1568.2,1231.7 L1568.6,1233.4 L1569.0,1231.9 L1569.4,1235.3 L1569.8,1234.9 L1570.3,1233.1 L1570.7,1234.3 L1571.1,1233.0 L1571.6,1232.2 L1572.0,1234.0 L1572.4,1229.4 L1572.9,1228.7 L1573.3,1228.0 L1573.8,1230.6 L1574.2,1233.5 L1574.7,1232.1 L1575.1,1236.7 L1575.6,1237.6 L1576.1,1240.4 L1576.5,1241.1 L1577.0,1242.3 L1577.4,1241.0 L1577.9,1240.9 L1578.4,1241.5 L1578.8,1237.4 L1579.3,1242.4 L1579.7,1242.1 L1580.2,1241.8 L1580.7,1245.2 L1581.1,1247.8 L1581.6,1251.5 L1582.0,1250.8 L1582.5,1250.9 L1583.0,1252.1 L1583.4,1250.4 L1583.9,1252.0 L1584.3,1246.7 L1584.8,1249.3 L1585.3,1250.0 L1585.7,1249.4 L1586.2,1247.7 L1586.6,1248.5 L1587.1,1248.7 L1587.6,1251.7 L1588.0,1250.9 L1588.5,1253.0 L1588.9,1254.9 L1589.4,1257.5 L1589.9,1259.8 L1590.3,1259.7 L1590.8,1259.2 L1591.2,1255.7 L1591.7,1259.0 L1592.2,1256.4 L1592.6,1256.3 L1593.1,1257.1 L1593.5,1260.6 L1594.0,1260.0 L1594.5,1260.1 L1594.9,1262.2 L1595.4,1263.9 L1595.8,1262.9 L1596.3,1262.0 L1596.8,1261.9 L1597.2,1262.5 L1597.7,1261.4 L1598.1,1258.9 L1598.6,1262.9 L1599.1,1258.3 L1599.5,1258.8 L1600.0,1258.2 L1600.4,1258.0 L1600.9,1257.0 L1601.3,1257.3 L1601.8,1258.5 L1602.2,1260.8 L1602.6,1259.2 L1603.1,1258.4 L1603.5,1260.4 L1603.9,1260.1 L1604.4,1261.1 L1604.8,1258.8 L1605.3,1257.0 L1605.7,1255.1 L1606.2,1252.2 L1606.7,1251.5 L1607.1,1248.0 L1607.6,1244.7 L1608.0,1244.7 L1608.5,1241.8 L1608.9,1241.8 L1609.4,1243.9 L1609.8,1242.0 L1610.2,1244.0 L1610.7,1244.0 L1611.1,1240.8 L1611.5,1243.0 L1611.9,1244.6 L1612.4,1245.3 L1612.9,1249.0 L1613.3,1247.2 L1613.8,1251.9 L1614.2,1253.7 L1614.7,1254.5 L1615.2,1256.2 L1615.6,1256.5 L1616.1,1258.5 L1616.6,1260.3 L1617.0,1261.9 L1617.5,1263.2 L1617.9,1263.0 L1618.3,1262.0 L1618.8,1261.1 L1619.2,1260.6 L1619.7,1260.9 L1620.1,1258.5 L1620.5,1258.2 L1621.0,1258.5 L1621.4,1257.8 L1621.9,1257.6 L1622.3,1254.2 L1622.7,1256.4 L1623.2,1256.0 L1623.6,1256.6 L1624.1,1253.1 L1624.5,1254.4 L1624.9,1254.6 L1625.4,1254.0 L1625.8,1254.0 L1626.3,1253.3 L1626.7,1251.4 L1627.1,1251.5 L1627.5,1254.0 L1628.0,1255.0 L1628.4,1256.4 L1628.8,1260.5 L1629.2,1261.1 L1629.7,1260.6 L1630.1,1260.1 L1630.5,1260.1 L1631.0,1259.4 L1631.4,1260.9 L1631.9,1260.1 L1632.3,1261.0 L1632.8,1259.7 L1633.2,1258.3 L1633.7,1259.9 L1634.1,1257.8 L1634.6,1257.8 L1635.0,1257.8 L1635.5,1257.8 L1635.9,1258.3 L1636.4,1256.9 L1636.8,1257.0 L1637.3,1257.5 L1637.7,1257.4 L1638.2,1256.2 L1638.6,1256.5 L1639.1,1257.8 L1639.5,1258.5 L1640.0,1258.4 L1640.4,1258.4 L1640.9,1258.4 L1641.3,1257.9 L1641.8,1257.1 L1642.2,1257.9 L1642.6,1256.1 L1643.1,1255.6 L1643.5,1256.5 L1644.0,1255.5 L1644.4,1256.2 L1644.8,1256.3 L1645.2,1257.5 L1645.5,1260.5 L1646.0,1260.0 L1646.4,1260.3 L1646.9,1259.4 L1647.4,1259.7 L1647.8,1258.2 L1648.3,1260.1 L1648.7,1259.2 L1649.2,1260.1 L1649.7,1259.8 L1650.1,1258.1 L1650.6,1259.0 L1651.0,1259.8 L1651.5,1257.0 L1652.0,1259.1 L1652.4,1259.5 L1652.9,1259.5 L1653.3,1257.8 L1653.8,1259.5 L1654.3,1259.3 L1654.7,1258.6 L1655.2,1259.1 L1655.6,1259.8 L1656.0,1259.5 L1656.5,1259.9 L1656.9,1259.6 L1657.3,1260.9 L1657.8,1260.7 L1658.2,1261.6 L1658.6,1261.1 L1659.1,1264.0 L1659.5,1265.5 L1659.9,1268.4 L1660.3,1271.7 L1660.7,1273.6 L1661.2,1274.6 L1661.6,1276.4 L1662.1,1277.8 L1662.5,1278.5 L1663.0,1278.7 L1663.5,1281.2 L1663.9,1281.1 L1664.3,1281.1 L1664.8,1281.0 L1665.2,1280.3 L1665.6,1281.6 L1666.1,1280.6 L1666.5,1280.3 L1666.9,1280.5 L1667.4,1281.3 L1667.8,1283.0 L1668.3,1283.2 L1668.8,1284.5 L1669.2,1287.1 L1669.7,1287.4 L1670.1,1288.0 L1670.6,1288.2 L1671.1,1288.5 L1671.5,1288.1 L1672.0,1287.3 L1672.4,1288.1 L1672.9,1287.3 L1673.4,1286.2 L1673.8,1284.6 L1674.3,1281.8 L1674.7,1282.3 L1675.2,1280.5 L1675.6,1281.3 L1676.1,1280.7 L1676.5,1281.3 L1676.9,1282.1 L1677.4,1281.7 L1677.8,1282.6 L1678.2,1282.3 L1678.7,1282.5 L1679.1,1282.7 L1679.6,1282.3 L1680.0,1281.1 L1680.5,1281.2 L1681.0,1284.0 L1681.4,1281.8 L1681.9,1282.2 L1682.3,1281.8 L1682.8,1281.2 L1683.3,1282.5 L1683.7,1282.7 L1684.2,1282.5 L1684.6,1283.5 L1685.1,1283.2 L1685.6,1284.6 L1686.0,1284.6 L1686.5,1285.2 L1686.9,1283.6 L1687.4,1285.0 L1687.9,1285.5 L1688.3,1285.8 L1688.8,1284.7 L1689.2,1285.0 L1689.7,1285.3 L1690.2,1284.8 L1690.6,1285.1 L1691.1,1285.9 L1691.5,1286.9 L1692.0,1285.2 L1692.5,1286.8 L1692.9,1286.4 L1693.4,1285.9 L1693.8,1287.4 L1694.3,1285.4 L1694.8,1286.5 L1695.2,1286.7 L1695.7,1286.5 L1696.1,1287.0 L1696.6,1286.7 L1697.1,1286.8 L1697.5,1285.3 L1698.0,1285.6 L1698.4,1285.5 L1698.9,1284.7 L1699.4,1284.3 L1699.8,1283.7 L1700.3,1283.4 L1700.7,1283.2 L1701.2,1282.2 L1701.7,1283.5 L1702.1,1281.5 L1702.6,1280.0 L1703.0,1281.1 L1703.5,1280.5 L1704.0,1281.0 L1704.4,1281.6 L1704.9,1283.2 L1705.3,1282.5 L1705.8,1283.0 L1706.3,1283.2 L1706.7,1284.2 L1707.2,1284.6 L1707.6,1285.3 L1708.1,1285.0 L1708.6,1286.1 L1709.0,1284.4 L1709.5,1283.2 L1709.9,1284.7 L1710.4,1283.5 L1710.9,1283.0 L1711.3,1282.5 L1711.8,1281.8 L1712.2,1282.1 L1712.7,1282.1 L1713.2,1282.5 L1713.6,1282.3 L1714.1,1282.5 L1714.5,1281.1 L1715.0,1281.4 L1715.5,1280.9 L1715.9,1281.9 L1716.4,1281.7 L1716.8,1281.0 L1717.3,1281.2 L1717.8,1281.3 L1718.2,1282.7 L1718.7,1281.7 L1719.1,1280.0 L1719.6,1280.5 L1720.1,1280.5 L1720.4,1276.5 L1720.8,1271.5 L1721.2,1271.3 L1721.6,1271.4 L1722.1,1272.0 L1722.5,1271.1 L1722.9,1269.7 L1723.3,1271.0 L1723.8,1270.2 L1724.2,1270.1 L1724.7,1270.3 L1725.1,1269.9 L1725.6,1269.2 L1726.0,1269.5 L1726.5,1270.5 L1727.0,1270.8 L1727.4,1269.8 L1727.8,1267.9 L1728.3,1270.5 L1728.7,1268.0 L1729.1,1268.0 L1729.6,1268.6 L1730.0,1266.4 L1730.4,1267.4 L1730.9,1268.6 L1731.3,1267.4 L1731.8,1269.0 L1732.3,1268.3 L1732.7,1269.3 L1733.2,1269.4 L1733.6,1268.6 L1734.0,1267.7 L1734.5,1265.1 L1734.9,1264.5 L1735.3,1265.1 L1735.8,1265.4 L1736.2,1263.0 L1736.6,1262.5 L1737.0,1259.2 L1737.5,1255.3 L1737.9,1251.9 L1738.3,1248.6 L1738.7,1243.9 L1739.2,1243.7 L1739.6,1246.8 L1740.1,1247.4 L1740.5,1248.6 L1741.0,1249.5 L1741.5,1251.5 L1741.9,1249.3 L1742.3,1247.2 L1742.8,1245.4 L1743.2,1248.8 L1743.6,1246.1 L1744.1,1242.2 L1744.5,1241.3 L1744.9,1239.1 L1745.4,1239.1 L1745.8,1237.9 L1746.2,1239.4 L1746.7,1242.8 L1747.1,1245.5 L1747.5,1244.3 L1748.0,1243.9 L1748.4,1245.8 L1748.9,1246.0 L1749.3,1246.8 L1749.7,1248.7 L1750.2,1247.3 L1750.6,1245.8 L1751.1,1244.0 L1751.5,1242.5 L1751.9,1241.1 L1752.4,1241.5 L1752.8,1241.9 L1753.3,1238.4 L1753.7,1239.9 L1754.1,1234.8 L1754.6,1234.9 L1755.0,1229.8 L1755.5,1221.9 L1756.0,1218.3 L1756.4,1214.0 L1756.8,1210.3 L1757.2,1207.1 L1757.6,1204.1 L1758.0,1196.8 L1758.4,1193.5 L1758.9,1198.5 L1759.4,1207.2 L1759.9,1215.2 L1760.3,1220.7 L1760.8,1228.7 L1761.2,1226.1 L1761.7,1224.2 L1762.1,1215.5 L1762.5,1215.3 L1762.9,1213.0 L1763.4,1204.1 L1763.8,1204.2 L1764.2,1200.4 L1764.7,1205.6 L1765.2,1208.7 L1765.6,1219.6 L1766.1,1222.9 L1766.5,1227.4 L1767.0,1233.5 L1767.4,1232.4 L1767.9,1231.3 L1768.3,1230.1 L1768.7,1228.3 L1769.2,1226.5 L1769.6,1222.5 L1770.0,1222.2 L1770.5,1221.1 L1770.9,1223.0 L1771.4,1220.0 L1771.8,1230.1 L1772.3,1227.4 L1772.8,1228.5 L1773.2,1231.5 L1773.7,1226.1 L1774.1,1225.1 L1774.6,1221.5 L1775.0,1216.9 L1775.5,1214.0 L1775.9,1210.2 L1776.4,1208.0 L1776.9,1209.7 L1777.3,1213.2 L1777.8,1214.8 L1778.3,1220.0 L1778.7,1221.1 L1779.2,1224.2 L1779.7,1227.1 L1780.1,1229.4 L1780.6,1229.4 L1781.0,1227.4 L1781.5,1225.3 L1782.0,1223.1 L1782.4,1220.9 L1782.9,1220.4 L1783.3,1221.5 L1783.7,1224.4 L1784.2,1225.2 L1784.6,1225.6 L1785.0,1225.5 L1785.5,1227.1 L1785.9,1231.0 L1786.3,1232.2 L1786.8,1231.8 L1787.2,1230.0 L1787.6,1226.0 L1788.0,1226.6 L1788.5,1226.0 L1788.9,1222.8 L1789.3,1223.5 L1789.8,1221.5 L1790.2,1220.4 L1790.6,1220.1 L1791.1,1219.8 L1791.5,1224.0 L1791.9,1223.8 L1792.4,1222.5 L1792.8,1223.4 L1793.2,1225.3 L1793.7,1226.3 L1794.2,1226.4 L1794.6,1225.2 L1795.1,1228.7 L1795.5,1225.5 L1796.0,1224.4 L1796.5,1227.8 L1796.9,1226.3 L1797.4,1226.6 L1797.8,1233.1 L1798.3,1238.6 L1798.8,1244.6 L1799.2,1243.9 L1799.6,1243.8 L1800.0,1245.6 L1800.4,1247.7 L1800.8,1246.6 L1801.3,1245.2 L1801.7,1246.9 L1802.2,1245.1 L1802.7,1242.6 L1803.1,1244.0 L1803.6,1243.7 L1804.0,1241.3 L1804.5,1239.9 L1805.0,1241.1 L1805.4,1241.8 L1805.8,1240.9 L1806.3,1243.0 L1806.7,1240.3 L1807.2,1243.1 L1807.6,1242.6 L1808.0,1242.2 L1808.5,1244.4 L1808.9,1245.3 L1809.4,1245.1 L1809.8,1246.0 L1810.2,1245.7 L1810.7,1248.3 L1811.1,1247.2 L1811.6,1250.1 L1811.9,1240.2 L1812.3,1228.7 L1812.7,1230.0 L1813.2,1232.6 L1813.7,1232.5 L1814.1,1232.4 L1814.6,1233.0 L1815.1,1233.4 L1815.5,1232.8 L1816.0,1234.9 L1816.4,1236.5 L1816.8,1235.5 L1817.3,1234.1 L1817.7,1233.0 L1818.1,1234.2 L1818.5,1236.5 L1819.0,1236.7 L1819.5,1235.3 L1819.9,1238.9 L1820.4,1241.7 L1820.8,1239.7 L1821.3,1241.1 L1821.8,1241.2 L1822.2,1242.5 L1822.7,1243.9 L1823.1,1247.5 L1823.5,1252.2 L1823.9,1250.3 L1824.4,1251.8 L1824.8,1254.7 L1825.2,1255.6 L1825.7,1257.7 L1826.1,1256.5 L1826.5,1255.1 L1826.9,1251.1 L1827.3,1249.5 L1827.7,1248.7 L1828.2,1248.9 L1828.7,1250.0 L1829.1,1249.7 L1829.6,1251.3 L1830.0,1248.1 L1830.5,1250.7 L1831.0,1249.7 L1831.4,1250.6 L1831.9,1250.8 L1832.3,1251.8 L1832.8,1251.4 L1833.3,1252.8 L1833.7,1252.4 L1834.2,1254.9 L1834.6,1254.4 L1835.1,1255.7 L1835.6,1257.1 L1836.0,1257.7 L1836.4,1255.6 L1836.9,1256.0 L1837.3,1252.4 L1837.7,1252.4 L1838.1,1250.1 L1838.5,1250.7 L1839.0,1249.9 L1839.4,1251.0 L1839.9,1250.6 L1840.3,1251.5 L1840.7,1252.0 L1841.2,1254.9 L1841.6,1252.7 L1842.0,1254.9 L1842.5,1254.2 L1842.9,1254.2 L1843.4,1251.3 L1843.8,1247.8 L1844.3,1249.6 L1844.8,1244.4 L1845.2,1245.7 L1845.7,1243.2 L1846.1,1243.3 L1846.6,1242.1 L1847.1,1240.6 L1847.5,1239.8 L1848.0,1239.8 L1848.4,1238.2 L1848.9,1237.2 L1849.4,1236.7 L1849.8,1236.3 L1850.3,1238.6 L1850.7,1237.5 L1851.2,1240.0 L1851.7,1238.9 L1852.1,1240.8 L1852.6,1242.5 L1853.0,1240.2 L1853.5,1240.0 L1854.0,1240.0 L1854.4,1238.4 L1854.9,1236.0 L1855.4,1236.5 L1855.8,1234.0 L1856.3,1233.7 L1856.7,1232.2 L1857.2,1231.6 L1857.7,1231.2 L1858.1,1225.8 L1858.6,1226.6 L1859.0,1229.3 L1859.5,1226.9 L1860.0,1229.3 L1860.4,1225.2 L1860.9,1224.6 L1861.3,1224.5 L1861.8,1227.3 L1862.2,1226.7 L1862.6,1229.5 L1863.1,1227.7 L1863.5,1226.8 L1863.9,1228.8 L1864.4,1226.9 L1864.8,1228.0 L1865.3,1228.4 L1865.7,1229.4 L1866.1,1231.1 L1866.5,1234.5 L1866.9,1234.4 L1867.4,1237.5 L1867.8,1239.1 L1868.2,1238.3 L1868.6,1239.6 L1869.1,1234.2 L1869.5,1237.7 L1869.9,1238.0 L1870.4,1236.1 L1870.8,1238.2 L1871.2,1237.0 L1871.6,1245.1 L1872.1,1254.3 L1872.5,1261.6 L1872.9,1268.9 L1873.3,1276.3 L1873.7,1275.7 L1874.2,1274.6 L1874.6,1274.6 L1875.0,1273.9 L1875.5,1273.9 L1875.9,1272.9 L1876.3,1274.3 L1876.7,1272.2 L1877.2,1265.9 L1877.7,1263.7 L1878.1,1257.7 L1878.6,1258.1 L1879.0,1258.8 L1879.4,1260.8 L1879.9,1260.5 L1880.3,1259.9 L1880.7,1262.2 L1881.1,1262.4 L1881.6,1263.2 L1882.0,1260.5 L1882.4,1260.6 L1882.9,1257.9 L1883.3,1256.8 L1883.7,1256.9 L1884.2,1255.2 L1884.6,1253.3 L1885.0,1252.2 L1885.5,1254.3 L1886.0,1253.6 L1886.4,1253.1 L1886.9,1254.6 L1887.3,1254.7 L1887.8,1253.0 L1888.3,1254.5 L1888.7,1255.5 L1889.2,1257.0 L1889.6,1257.9 L1890.0,1255.6 L1890.5,1254.9 L1890.9,1253.9 L1891.3,1255.1 L1891.8,1253.4 L1892.2,1254.1 L1892.6,1252.2 L1893.1,1250.2 L1893.5,1248.9 L1894.0,1244.1 L1894.5,1242.1 L1894.9,1238.5 L1895.4,1236.3 L1895.8,1235.1 L1896.2,1232.0 L1896.7,1232.3 L1897.1,1230.6 L1897.5,1230.1 L1898.0,1231.8 L1898.4,1229.3 L1898.8,1228.0 L1899.3,1234.0 L1899.8,1237.5 L1900.2,1240.4 L1900.7,1239.8 L1901.1,1238.6 L1901.6,1234.6 L1902.1,1235.2 L1902.5,1232.0 L1903.0,1230.8 L1903.4,1231.0 L1903.9,1233.8 L1904.4,1236.3 L1904.8,1232.3 L1905.3,1237.4 L1905.7,1236.6 L1906.2,1235.1 L1906.7,1237.2 L1907.1,1237.7 L1907.6,1236.3 L1908.0,1234.8 L1908.5,1231.9 L1909.0,1228.8 L1909.4,1229.1 L1909.9,1227.3 L1910.3,1228.8 L1910.8,1229.6 L1911.3,1230.3 L1911.7,1231.8 L1912.2,1229.1 L1912.6,1231.4 L1913.1,1232.7 L1913.6,1234.3 L1914.0,1233.7 L1914.5,1234.8 L1914.9,1235.0 L1915.4,1235.6 L1915.8,1237.1 L1916.3,1231.7 L1916.7,1234.0 L1917.1,1237.6 L1917.6,1233.4 L1918.0,1230.1 L1918.4,1232.1 L1918.9,1231.5 L1919.3,1230.6 L1919.7,1231.6 L1920.1,1233.4 L1920.6,1236.3 L1921.0,1234.8 L1921.4,1235.4 L1921.9,1236.1 L1922.3,1235.6 L1922.8,1235.6 L1923.2,1234.1 L1923.7,1234.8 L1924.1,1235.2 L1924.6,1234.0 L1925.1,1233.2 L1925.5,1233.5 L1926.0,1232.4 L1926.4,1233.5 L1926.9,1232.7 L1927.3,1233.6 L1927.8,1233.2 L1928.2,1233.8 L1928.6,1236.1 L1929.1,1234.4 L1929.5,1233.9 L1930.0,1232.4 L1930.4,1232.9 L1930.8,1234.5 L1931.3,1234.2 L1931.7,1232.6 L1932.2,1233.5 L1932.7,1230.4 L1933.1,1231.7 L1933.6,1230.7 L1934.0,1230.1 L1934.5,1227.6 L1935.0,1221.1 L1935.4,1217.7 L1935.9,1216.6 L1936.3,1216.6 L1936.8,1215.7 L1937.3,1218.2 L1937.7,1213.7 L1938.2,1212.5 L1938.6,1212.3 L1939.1,1212.7 L1939.6,1211.4 L1940.0,1211.3 L1940.5,1211.6 L1940.9,1207.4 L1941.4,1214.7 L1941.9,1213.0 L1942.3,1208.6 L1942.8,1206.3 L1943.2,1208.0 L1943.7,1207.3 L1944.1,1208.8 L1944.6,1205.4 L1945.0,1210.2 L1945.4,1208.1 L1945.9,1212.9 L1946.3,1215.3 L1946.7,1215.2 L1947.2,1214.9 L1947.6,1212.7 L1948.0,1216.3 L1948.4,1215.3 L1948.9,1212.4 L1949.3,1213.7 L1949.7,1214.8 L1950.2,1211.5 L1950.6,1211.4 L1951.0,1214.5 L1951.4,1216.5 L1951.8,1222.7 L1952.3,1220.7 L1952.7,1226.6 L1953.1,1227.3 L1953.6,1224.2 L1954.0,1226.1 L1954.4,1221.4 L1954.9,1221.8 L1955.3,1221.8 L1955.7,1223.7 L1956.2,1219.1 L1956.6,1221.8 L1957.1,1219.7 L1957.5,1219.7 L1957.9,1221.9 L1958.4,1220.7 L1958.8,1222.8 L1959.2,1222.4 L1959.6,1226.2 L1960.1,1223.8 L1960.5,1224.9 L1961.0,1224.0 L1961.4,1226.4 L1961.9,1222.3 L1962.4,1222.4 L1962.8,1219.3 L1963.3,1219.3 L1963.7,1219.8 L1964.2,1216.3 L1964.7,1220.2 L1965.1,1219.1 L1965.6,1217.8 L1966.1,1218.6 L1966.5,1222.2 L1967.0,1221.2 L1967.5,1219.8 L1967.9,1214.1 L1968.4,1217.8 L1968.9,1212.8 L1969.3,1212.3 L1969.8,1213.1 L1970.3,1214.7 L1970.7,1212.6 L1971.2,1213.0 L1971.7,1215.6 L1972.1,1206.1 L1972.6,1199.8 L1973.1,1200.7 L1973.5,1200.2 L1974.0,1194.2 L1974.5,1199.8 L1974.9,1196.4 L1975.4,1196.5 L1975.9,1195.0 L1976.3,1194.2 L1976.8,1195.3 L1977.3,1192.6 L1977.8,1193.2 L1978.3,1194.5 L1978.7,1196.1 L1979.1,1184.4 L1979.5,1174.6 L1979.9,1175.3 L1980.3,1171.6 L1980.8,1177.7 L1981.2,1171.8 L1981.6,1171.6 L1982.1,1174.9 L1982.5,1173.7 L1982.9,1171.7 L1983.3,1170.5 L1983.8,1171.8 L1984.2,1158.6 L1984.7,1151.4 L1985.2,1146.8 L1985.6,1152.6 L1986.1,1151.6 L1986.6,1152.6 L1987.0,1147.0 L1987.5,1144.8 L1988.0,1151.5 L1988.4,1158.8 L1988.9,1164.6 L1989.4,1168.1 L1989.8,1158.1 L1990.2,1150.5 L1990.7,1140.2 L1991.1,1145.0 L1991.5,1136.4 L1991.9,1137.0 L1992.3,1138.8 L1992.8,1144.9 L1993.2,1146.2 L1993.6,1142.8 L1994.0,1143.9 L1994.5,1149.4 L1994.9,1151.2 L1995.4,1155.8 L1995.9,1158.8 L1996.3,1144.8 L1996.8,1133.6 L1997.3,1121.1 L1997.7,1108.5 L1998.2,1110.1 L1998.7,1113.8 L1999.1,1096.4 L1999.6,1104.3 L2000.1,1100.7 L2000.5,1099.2 L2001.0,1111.5 L2001.5,1116.0 L2001.9,1104.6 L2002.4,1084.3 L2002.9,1079.8 L2003.3,1073.3 L2003.8,1058.2 L2004.3,1054.5 L2004.7,1036.0 L2005.2,1041.3 L2005.7,1026.6 L2006.1,1009.8 L2006.4,997.9 L2006.9,979.7 L2007.3,979.9 L2007.7,961.8 L2008.1,944.7 L2008.6,945.3 L2009.1,976.7 L2009.6,977.7 L2010.1,1002.2 L2010.5,1010.0 L2011.0,1013.4 L2011.5,1018.5 L2012.0,1020.5 L2012.5,1034.3 L2013.0,1041.4 L2013.4,1028.2 L2013.8,1000.7 L2014.2,985.8 L2014.6,992.4 L2015.1,1029.7 L2015.6,1041.2 L2016.1,1048.7 L2016.6,1014.1 L2017.1,971.3 L2017.5,981.2 L2018.0,989.2 L2018.5,1001.5 L2019.0,1022.1 L2019.5,1007.6 L2020.0,996.2 L2020.4,964.5 L2020.9,954.4 L2021.4,937.5 L2021.8,923.7 L2022.3,911.3 L2022.7,904.5 L2023.1,889.2 L2023.6,907.8 L2024.1,893.7 L2024.6,909.2 L2025.0,908.5 L2025.5,892.4 L2026.0,860.7 L2026.5,839.0 L2027.0,808.2 L2027.5,794.9 L2027.9,820.4 L2028.4,828.3 L2028.8,845.6 L2029.3,870.7 L2029.7,882.9 L2030.2,902.6 L2030.6,926.6 L2031.0,913.6 L2031.4,913.7 L2031.8,890.3 L2032.3,884.7 L2032.7,857.9 L2033.1,846.3 L2033.5,845.7 L2033.9,844.8 L2034.4,819.3 L2034.8,796.2 L2035.3,798.4 L2035.7,793.2 L2036.2,764.9 L2036.6,764.7 L2037.1,769.3 L2037.6,790.0 L2038.1,789.8 L2038.6,815.9 L2039.1,821.5 L2039.5,835.2 L2039.9,839.5 L2040.4,838.7 L2040.8,849.2 L2041.2,856.5 L2041.7,841.7 L2042.1,833.1 L2042.6,825.9 L2043.0,808.8 L2043.5,808.8 L2043.9,806.0 L2044.4,778.0 L2044.8,776.4 L2045.3,784.5 L2045.7,791.5 L2046.2,791.9 L2046.6,784.7 L2047.1,784.9 L2047.5,796.8 L2048.0,792.5 L2048.4,788.5 L2048.8,780.8 L2049.2,759.8 L2049.7,766.7 L2050.1,759.4 L2050.5,742.5 L2050.9,735.7 L2051.4,761.6 L2051.9,798.9 L2052.3,781.1 L2052.8,816.7 L2053.3,839.4 L2053.8,842.4 L2054.3,861.5 L2054.8,889.2 L2055.2,873.7 L2055.6,865.0 L2056.0,847.2 L2056.4,821.8 L2056.8,806.5 L2057.3,800.7 L2057.7,790.1 L2058.1,796.5 L2058.6,794.6 L2059.1,794.6 L2059.6,827.7 L2060.1,821.5 L2060.5,805.5 L2060.9,801.2 L2061.4,788.9 L2061.8,784.0 L2062.3,793.5 L2062.7,812.8 L2063.2,824.3 L2063.7,840.8 L2064.2,864.2 L2064.7,869.8 L2065.2,887.2 L2065.6,929.2 L2066.1,937.5 L2066.5,959.4 L2067.0,987.2 L2067.4,1010.4 L2067.8,1026.9 L2068.3,1018.3 L2068.7,1005.7 L2069.2,985.2 L2069.6,973.9 L2070.1,979.0 L2070.5,965.6 L2071.0,952.0 L2071.4,964.6 L2071.9,963.6 L2072.3,969.7 L2072.8,986.4 L2073.2,996.5 L2073.7,1014.4 L2074.1,1020.4 L2074.6,1034.2 L2075.0,1029.1 L2075.5,1010.3 L2075.9,999.6 L2076.4,997.9 L2076.8,984.1 L2077.3,966.7 L2077.8,964.6 L2078.2,950.8 L2078.7,974.3 L2079.1,974.3 L2079.6,994.8 L2080.0,1005.3 L2080.5,1017.3 L2080.9,1044.0 L2081.3,1057.1 L2081.8,1049.9 L2082.2,1042.7 L2082.6,1031.0 L2083.0,1007.7 L2083.4,1009.5 L2083.8,997.6 L2084.2,990.7 L2084.7,986.8 L2085.2,986.2 L2085.6,997.1 L2086.1,991.2 L2086.5,1005.5 L2087.0,996.7 L2087.4,987.7 L2087.9,995.5 L2088.3,1002.8 L2088.8,1009.6 L2089.2,1007.1 L2089.7,1003.6 L2090.1,1023.4 L2090.6,1013.4 L2091.0,1022.1 L2091.4,1026.1 L2091.8,1021.6 L2092.3,1028.2 L2092.7,1030.3 L2093.1,1048.6 L2093.5,1051.9 L2093.9,1052.3 L2094.4,1036.6 L2094.8,1017.3 L2095.3,1008.9 L2095.7,997.3 L2096.2,971.0 L2096.6,959.8 L2097.1,951.4 L2097.5,937.5 L2098.0,945.6 L2098.5,948.0 L2098.9,955.6 L2099.4,948.8 L2099.8,946.2 L2100.3,969.3 L2100.7,968.9 L2101.2,977.6 L2101.6,961.5 L2102.0,944.5 L2102.4,931.7 L2102.9,926.2 L2103.4,909.4 L2103.9,918.2 L2104.3,899.0 L2104.8,890.6 L2105.3,889.9 L2105.7,888.2 L2106.2,889.0 L2106.6,880.8 L2107.1,859.5 L2107.6,866.2 L2108.0,877.1 L2108.5,864.0 L2108.9,873.8 L2109.4,882.2 L2109.9,888.1 L2110.4,887.1 L2110.9,897.8 L2111.4,888.9 L2111.8,882.9 L2112.3,892.9 L2112.8,880.8 L2113.3,873.7 L2113.8,879.1 L2114.3,865.9 L2114.7,872.1 L2115.2,852.6 L2115.7,843.5 L2116.2,850.9 L2116.7,888.6 L2117.2,891.9 L2117.6,911.4 L2118.1,919.6 L2118.6,913.1 L2119.1,901.5 L2119.6,897.7 L2120.1,881.7 L2120.5,880.9 L2121.0,890.8 L2121.4,909.6 L2121.8,931.2 L2122.2,952.2 L2122.7,945.2 L2123.1,949.8 L2123.6,951.8 L2124.0,963.2 L2124.5,959.4 L2124.9,946.8 L2125.4,946.2 L2125.9,938.5 L2126.3,919.4 L2126.8,911.5 L2127.3,895.7 L2127.8,883.3 L2128.2,853.1 L2128.5,832.6 L2129.0,831.7 L2129.5,815.9 L2130.0,832.3 L2130.4,824.7 L2130.9,825.3 L2131.4,799.0 L2131.8,786.6 L2132.2,777.6 L2132.6,755.2 L2133.1,739.1 L2133.6,740.8 L2134.1,730.7 L2134.6,715.4 L2135.0,737.7 L2135.4,726.5 L2135.8,746.8 L2136.2,764.4 L2136.6,783.6 L2137.0,782.4 L2137.5,791.5 L2137.9,787.4 L2138.4,756.4 L2138.9,755.6 L2139.4,765.4 L2139.9,742.0 L2140.4,744.5 L2140.8,776.3 L2141.3,750.9 L2141.8,762.5 L2142.2,747.9 L2142.7,720.2 L2143.1,732.7 L2143.5,715.5 L2144.0,700.9 L2144.5,726.9 L2144.9,715.5 L2145.4,717.5 L2145.9,726.2 L2146.3,726.1 L2146.7,754.4 L2147.1,769.7 L2147.5,793.7 L2147.9,806.5 L2148.3,814.5 L2148.8,817.5 L2149.2,809.4 L2149.6,793.2 L2150.0,786.7 L2150.4,808.0 L2150.8,819.6 L2151.2,833.8 L2151.7,812.1 L2152.2,828.6 L2152.7,803.4 L2153.2,789.1 L2153.6,816.0 L2154.0,864.8 L2154.4,897.8 L2154.8,894.4 L2155.3,895.0 L2155.7,895.1 L2156.2,852.1 L2156.6,878.3 L2157.1,879.8 L2157.5,858.9 L2158.0,859.2 L2158.5,856.5 L2159.0,880.4 L2159.4,890.2 L2159.9,899.0 L2160.4,906.3 L2160.9,894.0 L2161.3,889.5 L2161.8,887.5 L2162.2,885.6 L2162.7,890.7 L2163.1,867.6 L2163.6,855.4 L2164.0,851.9 L2164.5,842.5 L2165.0,873.8 L2165.5,869.6 L2166.0,876.3 L2166.5,883.3 L2166.9,880.1 L2167.3,892.8 L2167.7,874.6 L2168.1,892.5 L2168.5,894.6 L2168.9,897.3 L2169.4,897.8 L2169.7,934.6 L2170.1,951.0 L2170.5,946.9 L2171.0,944.3 L2171.4,946.2 L2171.9,924.8 L2172.3,930.8 L2172.8,929.7 L2173.3,930.1 L2173.7,922.0 L2174.2,919.3 L2174.7,931.9 L2175.2,930.7 L2175.6,921.3 L2176.1,931.7 L2176.5,950.3 L2176.9,979.5 L2177.3,1016.2 L2177.8,1013.6 L2178.2,1010.9 L2178.7,1011.0 L2179.1,1008.7 L2179.6,997.1 L2180.1,1002.7 L2180.5,997.2 L2181.0,990.9 L2181.4,978.0 L2181.9,963.7 L2182.4,936.0 L2182.9,932.0 L2183.4,914.7 L2183.8,906.8 L2184.2,902.7 L2184.6,908.8 L2185.1,909.9 L2185.5,913.7 L2186.0,915.8 L2186.4,916.7 L2186.9,914.6 L2187.3,926.7 L2187.8,924.9 L2188.2,931.7 L2188.7,938.8 L2189.2,961.8 L2189.7,985.5 L2190.1,988.7 L2190.6,1005.4 L2191.1,988.3 L2191.5,987.8 L2192.0,978.8 L2192.4,952.2 L2192.9,940.1 L2193.3,929.8 L2193.8,916.0 L2194.2,946.0 L2194.7,943.5 L2195.2,962.8 L2195.7,971.4 L2196.2,982.4 L2196.6,968.0 L2197.0,962.7 L2197.4,954.2 L2197.8,959.2 L2198.3,950.3 L2198.7,951.5 L2199.1,936.5 L2199.6,937.9 L2200.0,944.5 L2200.5,945.7 L2201.0,948.8 L2201.5,951.0 L2202.0,956.3 L2202.5,935.7 L2202.9,934.0 L2203.4,916.0 L2203.9,917.6 L2204.3,899.0 L2204.7,903.4 L2205.2,889.4 L2205.6,885.7 L2206.1,887.7 L2206.5,889.7 L2207.0,890.1 L2207.4,887.3 L2207.9,904.0 L2208.3,892.6 L2208.7,895.4 L2209.2,912.1 L2209.6,933.3 L2210.0,937.6 L2210.5,951.0 L2210.9,957.9 L2211.3,965.8 L2211.8,967.4 L2212.2,973.8 L2212.7,953.5 L2213.1,973.3 L2213.6,965.1 L2214.0,963.2 L2214.5,949.6 L2214.9,954.3 L2215.4,947.6 L2215.8,954.6 L2216.3,952.6 L2216.7,949.0 L2217.2,952.6 L2217.6,963.3 L2218.1,965.3 L2218.5,961.8 L2219.0,968.7 L2219.4,972.6 L2219.9,975.9 L2220.3,973.8 L2220.8,971.1 L2221.2,967.2 L2221.7,972.0 L2222.1,956.3 L2222.6,961.5 L2223.0,986.1 L2223.5,1017.2 L2223.9,1032.6 L2224.4,1044.6 L2224.8,1059.3 L2225.3,1076.4 L2225.7,1065.0 L2226.2,1058.2 L2226.6,1052.9 L2227.0,1037.8 L2227.5,1038.8 L2227.9,1039.8 L2228.4,1044.7 L2228.8,1043.2 L2229.3,1038.9 L2229.7,1047.7 L2230.2,1051.6 L2230.6,1051.5 L2231.0,1053.4 L2231.5,1061.5 L2231.9,1062.0 L2232.3,1053.7 L2232.8,1041.9 L2233.2,1026.5 L2233.7,1027.9 L2234.2,1025.4 L2234.6,1037.3 L2235.1,1041.3 L2235.6,1048.3 L2236.0,1051.3 L2236.5,1048.2 L2236.9,1040.6 L2237.4,1033.4 L2237.8,1035.1 L2238.3,1037.4 L2238.7,1048.7 L2239.2,1051.8 L2239.6,1063.8 L2240.0,1085.6 L2240.4,1095.7 L2240.9,1119.5 L2241.3,1126.3 L2241.8,1144.6 L2242.3,1158.1 L2242.8,1144.5 L2243.2,1146.3 L2243.7,1128.8 L2244.1,1123.1 L2244.5,1127.1 L2245.0,1130.6 L2245.4,1132.6 L2245.9,1134.1 L2246.3,1139.6 L2246.8,1148.2 L2247.2,1146.4 L2247.7,1143.9 L2248.1,1144.8 L2248.6,1128.4 L2249.0,1132.2 L2249.5,1126.6 L2249.9,1125.0 L2250.4,1119.5 L2250.8,1122.3 L2251.3,1130.3 L2251.7,1135.4 L2252.2,1138.2 L2252.6,1143.9 L2253.1,1144.6 L2253.5,1136.7 L2254.0,1134.9 L2254.4,1119.4 L2254.9,1120.9 L2255.3,1099.4 L2255.8,1099.7 L2256.2,1104.9 L2256.7,1106.9 L2257.1,1115.0 L2257.6,1123.8 L2258.0,1127.0 L2258.5,1130.2 L2258.9,1125.0 L2259.4,1125.3 L2259.8,1107.6 L2260.3,1105.0 L2260.7,1107.0 L2261.1,1097.0 L2261.6,1100.5 L2262.0,1093.9 L2262.5,1106.1 L2262.9,1102.6 L2263.4,1113.9 L2263.8,1112.3 L2264.3,1112.6 L2264.8,1104.9 L2265.2,1109.7 L2265.7,1098.0 L2266.1,1102.3 L2266.6,1097.8 L2267.1,1093.4 L2267.5,1094.6 L2267.9,1090.6 L2268.4,1097.1 L2268.8,1092.6 L2269.2,1101.5 L2269.7,1112.7 L2270.1,1128.4 L2270.6,1121.4 L2271.0,1130.4 L2271.5,1121.4 L2271.9,1123.1 L2272.4,1120.0 L2272.8,1134.2 L2273.3,1137.6 L2273.7,1141.0 L2274.1,1140.9 L2274.6,1149.4 L2275.0,1146.7 L2275.5,1145.3 L2275.9,1144.2 L2276.3,1140.8 L2276.8,1148.2 L2277.2,1145.0 L2277.7,1142.7 L2278.1,1133.7 L2278.6,1126.3 L2279.0,1127.3 L2279.5,1118.0 L2279.9,1119.1 L2280.4,1115.0 L2280.8,1124.5 L2281.3,1135.2 L2281.8,1138.0 L2282.2,1144.9 L2282.7,1151.8 L2283.1,1151.2 L2283.6,1151.4 L2284.0,1144.3 L2284.5,1139.0 L2284.9,1138.5 L2285.4,1135.3 L2285.8,1134.9 L2286.3,1134.7 L2286.7,1136.8 L2287.2,1140.6 L2287.6,1142.5 L2288.1,1144.5 L2288.5,1145.9 L2289.0,1149.1 L2289.4,1146.7 L2289.9,1145.0 L2290.3,1140.5 L2290.8,1134.7 L2291.2,1141.2 L2291.7,1139.5 L2292.1,1142.4 L2292.6,1151.4 L2293.0,1149.4 L2293.5,1151.8 L2293.9,1152.0 L2294.4,1149.9 L2294.8,1153.0 L2295.2,1148.3 L2295.7,1145.7 L2296.1,1148.3 L2296.6,1146.7 L2297.0,1149.5 L2297.5,1146.2 L2297.9,1146.4 L2298.4,1142.7 L2298.8,1137.5 L2299.3,1135.3 L2299.7,1130.2 L2300.2,1128.3 L2300.7,1132.2 L2301.1,1123.5 L2301.6,1126.4 L2302.0,1124.6 L2302.5,1128.9 L2302.9,1126.2 L2303.4,1126.5 L2303.9,1124.9 L2304.4,1137.4 L2304.8,1154.7 L2305.1,1174.2 L2305.6,1171.5 L2306.0,1168.5 L2306.5,1169.2 L2306.9,1167.4 L2307.4,1168.0 L2307.8,1166.1 L2308.3,1168.1 L2308.7,1171.2 L2309.2,1169.9 L2309.6,1169.3 L2310.1,1169.9 L2310.5,1174.3 L2311.0,1176.2 L2311.4,1176.9 L2311.8,1178.9 L2312.3,1173.8 L2312.7,1176.7 L2313.2,1174.8 L2313.6,1165.8 L2314.1,1166.1 L2314.5,1167.9 L2315.0,1168.0 L2315.4,1168.7 L2315.9,1164.3 L2316.3,1166.7 L2316.8,1162.2 L2317.2,1162.9 L2317.7,1162.5 L2318.1,1164.4 L2318.6,1171.5 L2319.0,1167.4 L2319.5,1169.7 L2319.9,1168.0 L2320.4,1161.9 L2320.8,1155.8 L2321.3,1153.6 L2321.7,1156.8 L2322.2,1160.9 L2322.6,1159.4 L2323.1,1166.1 L2323.5,1165.6 L2324.0,1169.7 L2324.4,1167.4 L2324.9,1169.1 L2325.3,1167.2 L2325.8,1164.6 L2326.2,1163.4 L2326.7,1166.1 L2327.1,1167.1 L2327.6,1168.7 L2328.0,1167.7 L2328.4,1169.7 L2328.9,1169.4 L2329.3,1165.4 L2329.8,1168.9 L2330.2,1168.5 L2330.7,1167.6 L2331.1,1164.3 L2331.6,1165.8 L2332.0,1165.3 L2332.5,1167.0 L2332.9,1164.3 L2333.4,1163.5 L2333.8,1162.5 L2334.3,1152.5 L2334.7,1149.3 L2335.2,1141.7 L2335.6,1130.2 L2336.1,1125.4 L2336.5,1125.3 L2337.0,1120.7 L2337.4,1115.7 L2337.9,1108.7 L2338.3,1108.7 L2338.8,1112.0 L2339.2,1101.5 L2339.7,1107.7 L2340.1,1104.3 L2340.6,1110.0 L2341.0,1102.6 L2341.5,1103.8 L2341.9,1104.9 L2342.4,1103.3 L2342.8,1101.5 L2343.3,1103.0 L2343.7,1110.1 L2344.2,1112.1 L2344.6,1117.2 L2345.1,1115.1 L2345.5,1119.5 L2345.9,1120.1 L2346.4,1119.6 L2346.8,1118.4 L2347.3,1123.4 L2347.7,1124.3 L2348.2,1124.0 L2348.6,1115.1 L2349.1,1094.3 L2349.5,1093.2 L2350.0,1095.3 L2350.4,1098.6 L2350.8,1092.8 L2351.3,1093.3 L2351.7,1093.2 L2352.1,1092.5 L2352.6,1096.4 L2353.1,1101.9 L2353.6,1112.3 L2354.0,1114.1 L2354.5,1110.3 L2354.9,1107.9 L2355.4,1102.1 L2355.8,1105.9 L2356.3,1104.2 L2356.7,1111.6 L2357.2,1106.2 L2357.6,1111.4 L2358.1,1117.7 L2358.5,1126.8 L2359.0,1134.3 L2359.4,1139.1 L2359.9,1140.1 L2360.3,1119.3 L2360.7,1104.8 L2361.1,1083.6 L2361.6,1076.3 L2362.0,1076.7 L2362.5,1067.8 L2363.0,1065.6 L2363.4,1060.2 L2363.9,1063.7 L2364.3,1060.8 L2364.8,1058.1 L2365.2,1059.1 L2365.7,1059.8 L2366.1,1055.5 L2366.6,1058.7 L2367.0,1059.7 L2367.5,1061.5 L2367.9,1056.7 L2368.4,1056.2 L2368.8,1076.4 L2369.3,1071.6 L2369.7,1068.8 L2370.2,1076.4 L2370.6,1083.0 L2371.1,1070.6 L2371.5,1068.8 L2372.0,1070.4 L2372.4,1065.6 L2372.9,1051.3 L2373.4,1054.3 L2373.8,1033.9 L2374.3,1045.4 L2374.8,1039.6 L2375.2,1041.7 L2375.6,1045.0 L2376.1,1052.3 L2376.5,1051.3 L2376.9,1063.7 L2377.4,1061.7 L2377.8,1066.9 L2378.3,1076.3 L2378.7,1072.8 L2379.1,1065.2 L2379.6,1065.9 L2380.0,1051.8 L2380.5,1049.5 L2380.9,1053.6 L2381.4,1053.9 L2381.8,1050.5 L2382.3,1055.2 L2382.7,1058.2 L2383.2,1056.1 L2383.6,1050.3 L2384.1,1050.4 L2384.5,1055.4 L2385.0,1066.0 L2385.4,1058.7 L2385.9,1068.6 L2386.3,1078.1 L2386.8,1081.8 L2387.2,1082.2 L2387.7,1086.4 L2388.1,1086.0 L2388.6,1078.4 L2389.0,1077.6 L2389.5,1069.2 L2389.9,1072.6 L2390.4,1071.9 L2390.8,1074.6 L2391.3,1074.5 L2391.7,1077.6 L2392.2,1081.7 L2392.6,1077.9 L2393.1,1082.7 L2393.5,1075.8 L2394.0,1064.6 L2394.4,1073.1 L2394.9,1063.8 L2395.3,1063.6 L2395.8,1062.9 L2396.2,1076.1 L2396.6,1074.5 L2397.1,1082.8 L2397.5,1079.9 L2398.0,1090.1 L2398.4,1087.2 L2398.9,1086.7 L2399.3,1081.6 L2399.8,1078.2 L2400.2,1074.6 L2400.7,1077.8 L2401.1,1086.1 L2401.5,1095.3 L2402.0,1089.0 L2402.4,1094.3 L2402.9,1087.2 L2403.3,1089.8 L2403.8,1088.4 L2404.3,1074.8 L2404.7,1076.4 L2405.2,1053.1 L2405.6,1036.9 L2406.1,1034.3 L2406.5,1039.5 L2407.0,1039.9 L2407.4,1034.1 L2407.9,1031.9 L2408.3,1042.0 L2408.8,1027.4 L2409.2,1042.0 L2409.7,1038.2 L2410.1,1046.3 L2410.6,1042.2 L2411.0,1039.6 L2411.5,1037.1 L2411.9,1037.0 L2412.4,1036.1 L2412.8,1032.8 L2413.3,1036.6 L2413.8,1040.3 L2414.2,1028.2 L2414.7,1033.3 L2415.1,1033.3 L2415.6,1045.1 L2416.0,1045.4 L2416.4,1045.9 L2416.8,1044.8 L2417.3,1045.6 L2417.7,1046.8 L2418.2,1045.4 L2418.6,1058.9 L2419.1,1056.7 L2419.5,1057.0 L2420.0,1054.0 L2420.4,1050.0 L2420.9,1055.1 L2421.3,1054.7 L2421.8,1064.5 L2422.2,1056.0 L2422.7,1057.6 L2423.1,1057.0 L2423.6,1059.8 L2424.0,1057.9 L2424.5,1053.1 L2424.9,1041.7 L2425.4,1059.3 L2425.8,1054.0 L2426.3,1048.7 L2426.7,1049.2 L2427.2,1048.6 L2427.6,1046.5 L2428.1,1046.8 L2428.5,1044.4 L2429.0,1055.8 L2429.5,1056.7 L2429.9,1056.1 L2430.4,1056.7 L2430.7,1074.8 L2431.1,1085.4 L2431.6,1087.2 L2432.0,1086.4 L2432.5,1082.2 L2433.0,1089.0 L2433.4,1091.3 L2433.9,1088.7 L2434.3,1087.2 L2434.8,1085.6 L2435.3,1071.3 L2435.8,1066.5 L2436.2,1066.6 L2436.6,1077.9 L2437.1,1073.0 L2437.5,1080.0 L2438.0,1081.1 L2438.4,1085.0 L2438.8,1088.1 L2439.3,1087.9 L2439.7,1087.3 L2440.1,1082.1 L2440.6,1099.0 L2441.0,1092.0 L2441.4,1086.5 L2441.9,1092.5 L2442.3,1087.0 L2442.8,1082.3 L2443.3,1080.3 L2443.7,1069.1 L2444.2,1080.1 L2444.6,1079.8 L2445.1,1071.9 L2445.6,1072.5 L2446.0,1077.5 L2446.5,1078.7 L2446.9,1071.4 L2447.3,1084.1 L2447.8,1073.6 L2448.2,1079.7 L2448.7,1082.7 L2449.2,1077.5 L2449.6,1080.6 L2450.1,1071.4 L2450.6,1066.4 L2451.0,1062.9 L2451.5,1062.6 L2451.9,1067.7 L2452.3,1069.7 L2452.8,1075.1 L2453.2,1079.6 L2453.6,1078.2 L2454.1,1078.2 L2454.5,1077.7 L2455.0,1076.5 L2455.5,1084.1 L2455.9,1077.1 L2456.4,1075.6 L2456.8,1080.5 L2457.3,1074.6 L2457.7,1074.8 L2458.2,1066.6 L2458.6,1057.9 L2459.0,1050.7 L2459.5,1047.7 L2459.9,1038.8 L2460.3,1016.5 L2460.7,1004.6 L2461.2,1009.5 L2461.6,1002.0 L2462.1,1007.9 L2462.5,1010.4 L2463.0,1009.7 L2463.4,1010.0 L2463.9,1007.1 L2464.4,1003.8 L2464.8,997.4 L2465.3,993.0 L2465.7,992.2 L2466.1,998.7 L2466.6,1008.5 L2467.0,1001.0 L2467.5,988.6 L2468.1,977.7 L2468.5,974.0 L2469.0,973.9 L2469.4,977.3 L2469.8,984.7 L2470.3,973.0 L2470.7,979.9 L2471.1,977.3 L2471.6,974.7 L2472.0,975.9 L2472.5,974.5 L2472.9,981.4 L2473.3,981.0 L2473.7,991.3 L2474.2,992.0 L2474.6,978.3 L2475.1,990.5 L2475.5,982.7 L2476.0,974.1 L2476.4,978.4 L2476.9,986.6 L2477.4,982.3 L2477.8,971.6 L2478.3,981.3 L2478.8,966.8 L2479.3,951.7 L2479.8,938.7 L2480.3,919.1 L2480.7,920.9 L2481.2,922.1 L2481.6,938.6 L2482.1,944.2 L2482.5,944.2 L2483.0,951.7 L2483.4,946.1 L2483.8,939.5 L2484.3,934.1 L2484.7,933.3 L2485.2,936.2 L2485.6,916.9 L2486.1,920.3 L2486.5,921.4 L2486.9,935.7 L2487.4,930.7 L2487.8,932.3 L2488.2,939.8 L2488.6,930.5 L2489.1,933.9 L2489.5,942.0 L2490.0,922.9 L2490.4,912.7 L2490.9,916.4 L2491.4,905.8 L2491.9,908.4 L2492.4,897.7 L2492.9,893.1 L2493.3,898.5 L2493.8,893.7 L2494.3,894.8 L2494.8,889.8 L2495.3,871.6 L2495.8,881.6 L2496.2,890.0 L2496.6,885.4 L2497.0,919.4 L2497.4,929.9 L2497.9,931.0 L2498.4,935.7 L2498.8,954.8 L2499.3,958.8 L2499.7,957.3 L2500.2,960.5 L2500.6,964.5 L2501.1,968.6 L2501.5,959.8 L2502.0,955.8 L2502.4,963.4 L2502.9,937.5 L2503.3,933.3 L2503.8,932.1 L2504.2,925.1 L2504.6,930.8 L2505.0,933.3 L2505.5,922.0 L2505.9,929.7 L2506.3,930.3 L2506.7,927.5 L2507.1,934.8 L2507.6,923.2 L2508.1,906.8 L2508.6,904.6 L2509.0,886.4 L2509.5,880.9 L2509.9,863.4 L2510.4,862.5 L2510.8,851.2 L2511.2,845.4 L2511.6,841.6 L2512.1,841.1 L2512.5,853.1 L2512.9,840.0 L2513.4,827.7 L2513.8,836.4 L2514.2,848.3 L2514.7,853.5 L2515.1,841.7 L2515.6,841.8 L2516.1,861.1 L2516.5,819.6 L2517.0,785.0 L2517.5,764.5 L2518.0,751.1 L2518.5,725.0 L2519.0,729.2 L2519.4,710.8 L2519.9,698.0 L2520.4,693.5 L2520.9,711.1 L2521.4,673.5 L2521.9,669.0 L2522.3,674.1 L2522.7,673.6 L2523.1,653.3 L2523.5,656.9 L2524.0,667.4 L2524.4,703.7 L2524.8,710.9 L2525.2,719.3 L2525.6,722.2 L2526.0,754.2 L2526.4,763.2 L2526.9,755.8 L2527.3,761.4 L2527.8,746.6 L2528.3,729.1 L2528.7,711.9 L2529.2,698.6 L2529.6,683.1 L2530.1,676.2 L2530.5,690.1 L2531.0,701.3 L2531.5,717.1 L2532.0,729.9 L2532.5,731.8 L2533.0,721.7 L2533.4,699.9 L2533.9,702.9 L2534.4,694.7 L2534.9,667.8 L2535.4,664.2 L2535.9,681.1 L2536.3,686.7 L2536.8,689.1 L2537.3,688.3 L2537.7,722.7 L2538.1,745.4 L2538.5,775.3 L2539.0,770.6 L2539.5,785.0 L2540.0,781.8 L2540.5,748.7 L2540.9,756.0 L2541.3,716.4 L2541.7,733.2 L2542.1,714.9 L2542.6,723.1 L2543.0,736.2 L2543.4,737.1 L2543.8,771.1 L2544.2,780.0 L2544.6,790.1 L2545.0,806.7 L2545.5,801.8 L2545.9,806.9 L2546.4,789.9 L2546.8,776.3 L2547.3,749.3 L2547.7,747.2 L2548.2,731.8 L2548.6,737.2 L2549.1,754.3 L2549.5,755.2 L2550.0,754.2 L2550.4,765.4 L2550.9,761.1 L2551.3,771.7 L2551.7,763.5 L2552.2,758.8 L2552.6,726.7 L2553.0,723.5 L2553.4,686.4 L2553.8,697.1 L2554.2,676.2 L2554.7,687.6 L2555.1,675.8 L2555.6,710.9 L2556.0,697.0 L2556.5,680.7 L2556.9,692.0 L2557.4,716.3 L2557.8,714.9 L2558.3,706.8 L2558.7,714.1 L2559.2,678.4 L2559.6,689.6 L2560.1,695.0 L2560.5,673.3 L2561.0,672.6 L2561.4,679.5 L2561.9,673.2 L2562.4,682.6 L2562.8,684.6 L2563.3,710.0 L2563.7,670.8 L2564.2,694.1 L2564.6,697.9 L2565.1,690.7 L2565.5,687.3 L2565.9,709.3 L2566.3,717.3 L2566.7,743.4 L2567.1,746.1 L2567.5,712.8 L2568.0,752.0 L2568.4,748.1 L2568.8,775.3 L2569.2,782.5 L2569.7,772.4 L2570.1,766.7 L2570.6,757.7 L2571.0,764.3 L2571.4,751.4 L2571.9,744.1 L2572.3,745.1 L2572.8,764.6 L2573.3,792.2 L2573.8,802.6 L2574.3,830.9 L2574.7,828.7 L2575.2,801.7 L2575.6,809.6 L2576.1,793.7 L2576.6,805.3 L2577.0,774.8 L2577.5,767.2 L2577.9,756.0 L2578.4,756.0 L2578.9,761.8 L2579.4,742.0 L2579.8,712.7 L2580.3,711.5 L2580.8,704.0 L2581.3,695.5 L2581.7,715.5 L2582.2,703.8 L2582.6,672.8 L2583.1,698.1 L2583.5,703.0 L2584.0,692.4 L2584.4,690.7 L2584.8,705.6 L2585.3,710.0 L2585.7,723.5 L2586.1,731.8 L2586.6,768.1 L2587.1,793.6 L2587.6,837.7 L2588.1,869.5 L2588.5,848.4 L2589.0,824.7 L2589.5,796.2 L2590.0,772.9 L2590.5,758.4 L2590.9,770.0 L2591.4,786.1 L2591.9,763.2 L2592.4,793.1 L2592.9,806.7 L2593.3,806.3 L2593.8,797.1 L2594.2,773.8 L2594.7,786.6 L2595.1,753.6 L2595.6,748.1 L2596.1,759.4 L2596.5,737.8 L2597.0,743.7 L2597.5,754.4 L2598.0,749.0 L2598.4,767.7 L2598.9,785.0 L2599.4,785.8 L2599.8,800.7 L2600.3,792.5 L2600.7,828.9 L2601.2,824.3 L2601.6,832.1 L2602.1,844.2 L2602.5,831.9 L2602.9,833.3 L2603.3,833.4 L2603.7,806.4 L2604.1,815.8 L2604.5,803.8 L2605.0,785.0 L2605.4,799.5 L2605.9,794.7 L2606.4,782.7 L2606.9,798.3 L2607.4,778.2 L2607.9,743.9 L2608.3,738.9 L2608.7,740.7 L2609.2,717.2 L2609.6,731.0 L2610.0,734.4 L2610.4,719.6 L2610.9,729.6 L2611.3,735.6 L2611.7,722.1 L2612.1,731.4 L2612.6,730.7 L2613.0,771.1 L2613.4,729.2 L2613.8,751.5 L2614.2,770.5 L2614.6,775.3 L2615.1,772.7 L2615.6,755.9 L2616.1,783.7 L2616.6,789.4 L2617.0,785.0 L2617.5,765.2 L2618.0,773.4 L2618.5,749.8 L2619.0,740.8 L2619.5,717.3 L2619.9,704.9 L2620.3,709.8 L2620.8,720.1 L2621.2,722.5 L2621.6,713.1 L2622.1,694.9 L2622.5,693.4 L2623.0,679.7 L2623.4,696.8 L2623.8,672.1 L2624.3,677.5 L2624.7,653.5 L2625.1,657.0 L2625.6,676.0 L2626.0,661.3 L2626.5,670.0 L2626.9,680.2 L2627.4,658.9 L2627.8,693.9 L2628.2,719.2 L2628.7,710.7 L2629.1,653.7 L2629.6,634.3 L2630.0,598.1 L2630.5,611.8 L2630.9,598.0 L2631.4,593.8 L2631.8,521.9 L2632.2,500.6 L2632.7,485.9 L2633.1,488.6 L2633.6,530.9 L2634.0,500.3 L2634.5,484.3 L2634.9,498.8 L2635.4,476.9 L2635.8,458.2 L2636.2,453.8 L2636.7,423.0 L2637.1,426.5 L2637.6,469.8 L2638.0,472.4 L2638.5,496.7 L2638.9,478.0 L2639.4,470.9 L2639.8,436.5 L2640.2,446.0 L2640.7,449.1 L2641.1,463.5 L2641.6,411.6 L2642.0,412.9 L2642.5,386.1 L2642.8,485.9 L2642.9,405.0 L2643.4,437.0 L2643.8,434.1 L2644.2,463.5 L2644.7,442.9 L2645.1,396.3 L2645.6,405.0 L2646.0,374.1 L2646.5,393.7 L2646.9,378.0 L2647.4,386.1 L2647.8,345.7 L2648.2,390.0 L2648.7,445.5 L2649.1,485.0 L2649.6,432.7 L2650.0,436.5 L2650.5,481.4 L2650.9,455.6 L2651.4,416.8 L2651.8,421.2 L2652.2,435.1 L2652.7,489.3 L2653.1,478.5 L2653.6,492.2 L2654.0,472.9 L2654.5,474.0 L2654.9,441.0 L2655.4,424.6 L2655.8,424.8 L2656.2,410.8 L2656.7,396.9 L2657.1,435.2 L2657.6,436.7 L2658.0,490.4 L2658.5,488.7 L2658.9,463.5 L2659.4,497.7 L2659.8,503.0 L2660.2,420.1 L2660.7,414.0 L2661.1,342.3 L2661.6,369.1 L2662.0,375.3 L2662.5,414.0 L2662.9,343.9 L2663.4,409.5 L2663.8,360.1 L2664.2,403.4 L2664.7,391.5 L2665.1,406.9 L2665.6,432.4 L2666.0,436.5 L2666.5,420.9 L2666.9,402.2 L2667.4,362.8 L2667.8,374.5 L2668.2,409.5 L2668.7,436.4 L2669.1,483.2 L2669.6,405.0 L2670.0,436.3 L2670.5,454.5 L2670.9,468.3 L2671.4,472.3 L2671.8,468.0 L2672.2,455.8 L2672.7,432.0 L2673.1,433.4 L2673.6,467.2 L2674.0,459.0 L2674.5,468.8 L2674.9,483.5 L2675.4,434.7 L2675.8,472.5 L2676.2,471.9 L2676.7,401.6 L2677.1,423.9 L2677.6,445.1 L2678.0,459.0 L2678.5,486.5 L2678.9,535.4 L2679.4,571.4 L2679.8,592.0 L2680.2,609.1 L2680.7,530.8 L2681.1,467.1 L2681.6,518.9 L2682.0,580.3 L2682.5,538.4 L2682.9,490.4 L2683.4,525.1 L2683.8,548.9 L2684.2,573.3 L2684.7,620.8 L2685.1,557.8 L2685.6,566.9 L2686.0,569.0 L2686.5,593.8 L2686.9,590.5 L2687.4,561.6 L2687.8,562.4 L2688.2,555.4 L2688.7,535.4 L2689.1,545.6 L2689.6,566.9 L2690.0,538.3 L2690.5,552.1 L2690.9,520.1 L2691.4,557.9 L2691.8,544.4 L2692.2,551.8 L2692.7,562.4 L2693.1,569.2 L2693.6,590.1 L2694.0,584.8 L2694.5,538.0 L2694.9,530.9 L2695.4,540.2 L2695.8,575.8 L2696.2,613.9 L2696.7,633.9 L2697.1,646.0 L2697.6,601.8 L2698.0,571.4 L2698.5,607.3 L2698.9,566.7 L2699.4,548.9 L2699.8,558.1 L2700.2,537.7 L2700.7,557.7 L2701.1,568.7 L2701.6,562.0 L2702.0,524.2 L2702.5,564.4 L2702.9,553.4 L2703.4,529.5 L2703.8,481.4 L2704.2,490.2 L2704.7,444.4 L2705.1,459.0 L2705.6,445.2 L2706.0,458.5 L2706.5,476.9 L2706.9,450.2 L2707.4,493.9 L2707.8,436.4 L2708.2,441.0 L2708.7,447.2 L2709.1,466.3 L2709.6,474.3 L2710.0,453.9 L2710.5,442.7 L2710.9,391.5 L2711.4,367.8 L2711.8,395.7 L2712.2,375.4 L2712.7,392.9 L2713.1,405.0 L2713.6,374.6 L2714.0,387.0 L2714.5,392.1 L2714.9,391.5 L2715.4,355.6 L2715.8,398.7 L2716.2,355.6 L2716.7,343.9" fill="none" stroke="#f7931a" stroke-width="5" stroke-linejoin="round" stroke-linecap="butt"/>
<text x="267.6" y="336.9" text-anchor="end" class="yl" style="letter-spacing:-1.2px">$110k</text>
<text x="268.1" y="426.8" text-anchor="end" class="yl" style="letter-spacing:-0.75px">$100k</text>
<text x="268.8" y="516.7" text-anchor="end" class="yl" style="letter-spacing:0px">$90k</text>
<text x="268.8" y="606.6" text-anchor="end" class="yl" style="letter-spacing:0px">$80k</text>
<text x="268.8" y="696.5" text-anchor="end" class="yl" style="letter-spacing:0px">$70k</text>
<text x="268.8" y="786.4" text-anchor="end" class="yl" style="letter-spacing:0px">$60k</text>
<text x="268.8" y="876.4" text-anchor="end" class="yl" style="letter-spacing:0px">$50k</text>
<text x="268.8" y="966.3" text-anchor="end" class="yl" style="letter-spacing:0px">$40k</text>
<text x="268.8" y="1056.2" text-anchor="end" class="yl" style="letter-spacing:0px">$30k</text>
<text x="268.8" y="1146.1" text-anchor="end" class="yl" style="letter-spacing:0px">$20k</text>
<text x="267.9" y="1236.0" text-anchor="end" class="yl" style="letter-spacing:-0.9px">$10k</text>
<text x="268.8" y="1325.9" text-anchor="end" class="yl" style="letter-spacing:0px">$0</text>
<text x="380.5" y="1377.2" text-anchor="middle" class="xl" style="letter-spacing:-2.0px">2011</text>
<text x="543.3" y="1377.2" text-anchor="middle" class="xl" style="letter-spacing:-0.9px">2012</text>
<text x="706.0" y="1377.2" text-anchor="middle" class="xl" style="letter-spacing:-0.9px">2013</text>
<text x="868.2" y="1377.2" text-anchor="middle" class="xl" style="letter-spacing:-0.9px">2014</text>
<text x="1030.4" y="1377.2" text-anchor="middle" class="xl" style="letter-spacing:-0.9px">2015</text>
<text x="1192.6" y="1377.2" text-anchor="middle" class="xl" style="letter-spacing:-0.9px">2016</text>
<text x="1355.3" y="1377.2" text-anchor="middle" class="xl" style="letter-spacing:-0.9px">2017</text>
<text x="1517.5" y="1377.2" text-anchor="middle" class="xl" style="letter-spacing:-0.9px">2018</text>
<text x="1679.8" y="1377.2" text-anchor="middle" class="xl" style="letter-spacing:-0.9px">2019</text>
<text x="1842.6" y="1377.2" text-anchor="middle" class="xl" style="letter-spacing:0.3px">2020</text>
<text x="2004.7" y="1377.2" text-anchor="middle" class="xl" style="letter-spacing:-0.9px">2021</text>
<text x="2167.5" y="1377.2" text-anchor="middle" class="xl" style="letter-spacing:0.3px">2022</text>
<text x="2329.7" y="1377.2" text-anchor="middle" class="xl" style="letter-spacing:0.3px">2023</text>
<text x="2491.9" y="1377.2" text-anchor="middle" class="xl" style="letter-spacing:0.3px">2024</text>
<text x="2654.6" y="1377.2" text-anchor="middle" class="xl" style="letter-spacing:0.3px">2025</text>
<text transform="scale(1.12,1)" x="2186.1 2226.9 2244.3 2283.5 2312.0 2343.0 2383.0 2423.9 2465.1" y="1559.2" font-family="'DejaVu Sans','Liberation Sans',sans-serif" font-size="70.5" fill="#dadada" stroke="#dadada" stroke-width="0.9" stroke-linejoin="round" >glassnode</text>
</svg>
<div class="title"><span class="a">BTC:</span> <span class="b">Price</span></div>
<div class="legend"><span class="dot"></span><span class="t">BTC: Price [USD]</span></div>
<div class="footer">© 2025 Glassnode. All Rights Reserved.</div>
</body></html>
